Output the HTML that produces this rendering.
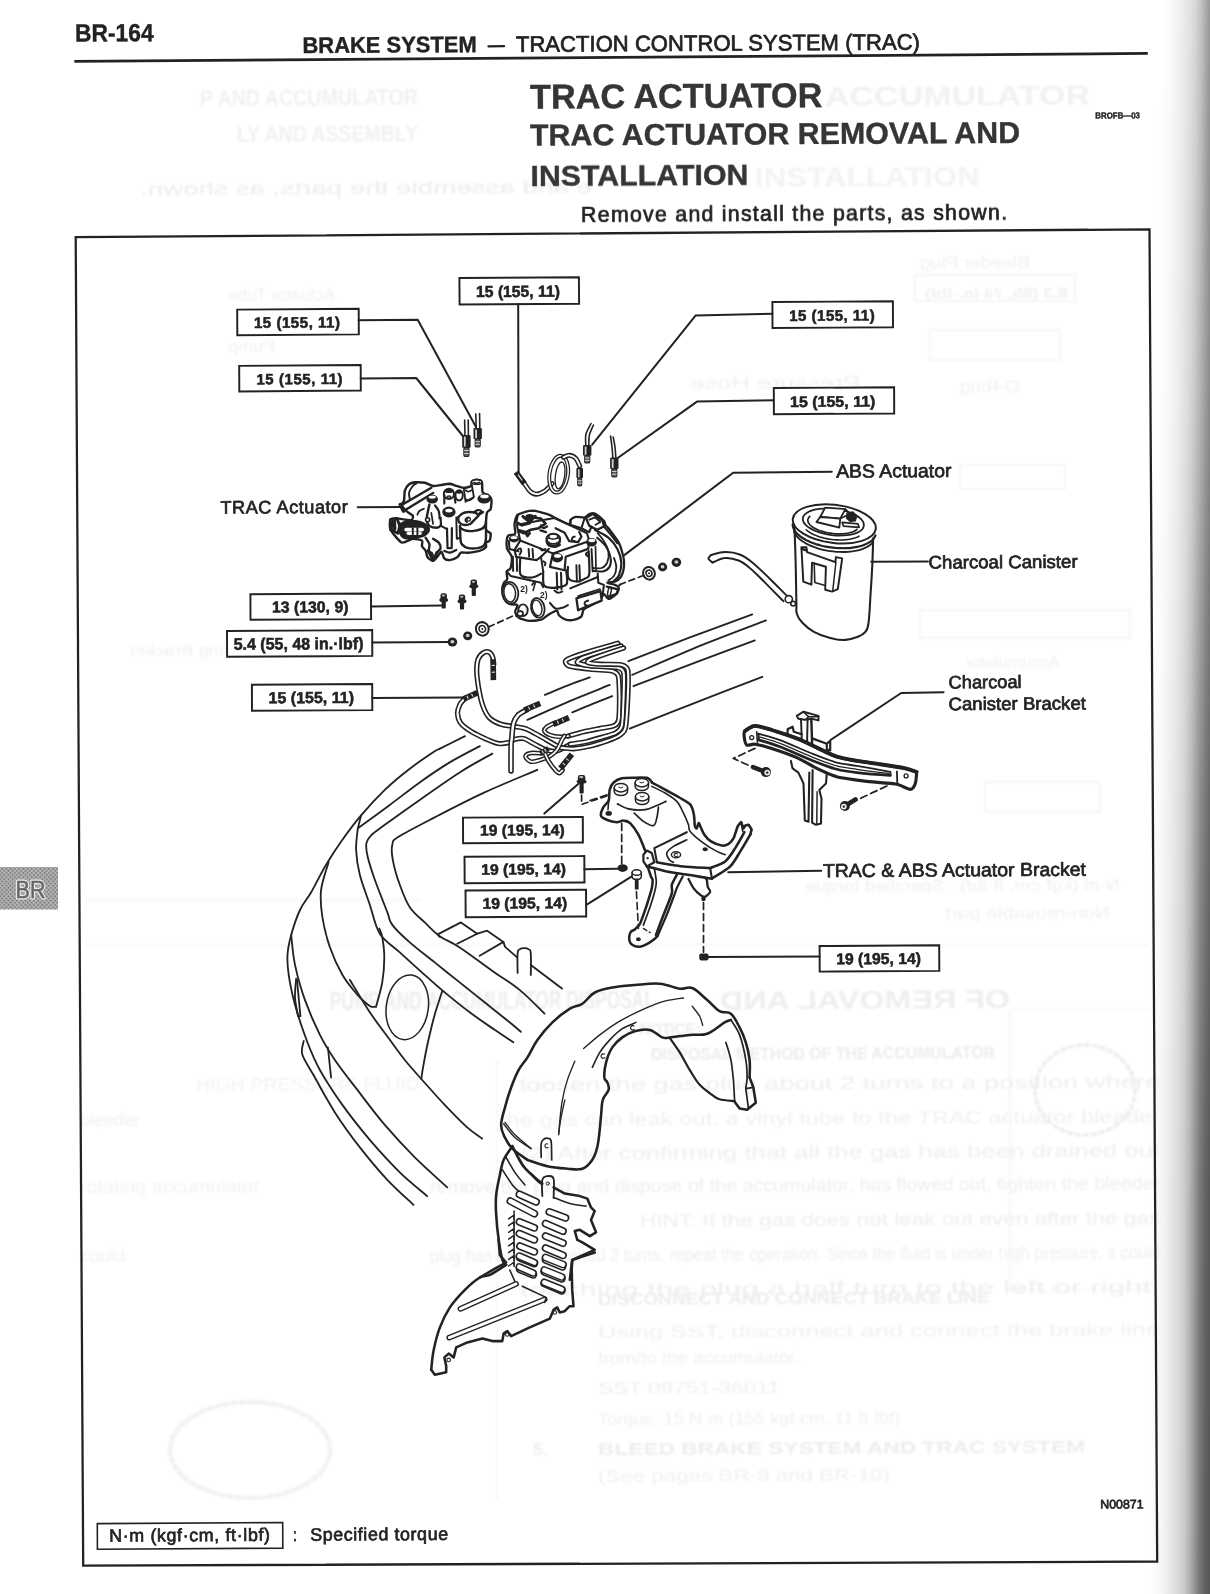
<!DOCTYPE html><html><head><meta charset="utf-8"><title>BR-164</title>
<style>html,body{margin:0;padding:0;background:#fff;}body{width:1210px;height:1594px;overflow:hidden;position:relative;font-family:"Liberation Sans",sans-serif;}svg{position:absolute;left:0;top:0;}text{font-family:"Liberation Sans",sans-serif;}</style></head><body>
<svg width="1210" height="1594" viewBox="0 0 1210 1594" stroke-linecap="round" stroke-linejoin="round">
<defs><filter id="soft" x="-5%" y="-5%" width="110%" height="110%"><feGaussianBlur stdDeviation="0.4"/></filter><filter id="ghost" x="-5%" y="-20%" width="110%" height="140%"><feGaussianBlur stdDeviation="0.9"/></filter>
<pattern id="ht" width="3" height="3" patternUnits="userSpaceOnUse" patternTransform="rotate(45)"><rect width="3" height="3" fill="#b4b4b4"/><rect width="1.6" height="1.6" fill="#6e6e6e"/></pattern>
<linearGradient id="shA" x1="0" x2="1" y1="0" y2="0"><stop offset="0.000" stop-color="rgb(255,255,255)"/><stop offset="0.077" stop-color="rgb(255,255,255)"/><stop offset="0.123" stop-color="rgb(255,255,255)"/><stop offset="0.169" stop-color="rgb(255,255,255)"/><stop offset="0.231" stop-color="rgb(255,255,255)"/><stop offset="0.292" stop-color="rgb(254,254,254)"/><stop offset="0.354" stop-color="rgb(252,252,252)"/><stop offset="0.415" stop-color="rgb(248,248,248)"/><stop offset="0.477" stop-color="rgb(244,244,244)"/><stop offset="0.538" stop-color="rgb(240,240,240)"/><stop offset="0.600" stop-color="rgb(234,234,234)"/><stop offset="0.646" stop-color="rgb(230,230,230)"/><stop offset="0.692" stop-color="rgb(226,226,226)"/><stop offset="0.738" stop-color="rgb(219,219,219)"/><stop offset="0.785" stop-color="rgb(212,212,212)"/><stop offset="0.815" stop-color="rgb(206,206,206)"/><stop offset="0.846" stop-color="rgb(198,198,198)"/><stop offset="0.877" stop-color="rgb(190,190,190)"/><stop offset="0.908" stop-color="rgb(181,181,181)"/><stop offset="0.938" stop-color="rgb(171,171,171)"/><stop offset="0.969" stop-color="rgb(161,161,161)"/><stop offset="1.000" stop-color="rgb(150,150,150)"/></linearGradient>
<linearGradient id="shB" x1="0" x2="1" y1="0" y2="0"><stop offset="0.000" stop-color="#000" stop-opacity="0.000"/><stop offset="0.077" stop-color="#000" stop-opacity="0.000"/><stop offset="0.123" stop-color="#000" stop-opacity="0.010"/><stop offset="0.169" stop-color="#000" stop-opacity="0.020"/><stop offset="0.231" stop-color="#000" stop-opacity="0.035"/><stop offset="0.292" stop-color="#000" stop-opacity="0.050"/><stop offset="0.354" stop-color="#000" stop-opacity="0.068"/><stop offset="0.415" stop-color="#000" stop-opacity="0.078"/><stop offset="0.477" stop-color="#000" stop-opacity="0.091"/><stop offset="0.538" stop-color="#000" stop-opacity="0.113"/><stop offset="0.600" stop-color="#000" stop-opacity="0.130"/><stop offset="0.646" stop-color="#000" stop-opacity="0.173"/><stop offset="0.692" stop-color="#000" stop-opacity="0.219"/><stop offset="0.738" stop-color="#000" stop-opacity="0.274"/><stop offset="0.785" stop-color="#000" stop-opacity="0.341"/><stop offset="0.815" stop-color="#000" stop-opacity="0.375"/><stop offset="0.846" stop-color="#000" stop-opacity="0.406"/><stop offset="0.877" stop-color="#000" stop-opacity="0.429"/><stop offset="0.908" stop-color="#000" stop-opacity="0.441"/><stop offset="0.938" stop-color="#000" stop-opacity="0.450"/><stop offset="0.969" stop-color="#000" stop-opacity="0.440"/><stop offset="1.000" stop-color="#000" stop-opacity="0.427"/></linearGradient>
<linearGradient id="shM" x1="0" x2="0" y1="0" y2="1"><stop offset="0" stop-color="#000"/><stop offset="0.25" stop-color="#383838"/><stop offset="0.5" stop-color="#adadad"/><stop offset="0.75" stop-color="#f2f2f2"/><stop offset="1" stop-color="#fff"/></linearGradient>
<mask id="shMask" maskUnits="userSpaceOnUse" x="1145" y="0" width="65" height="1594"><rect x="1145" y="0" width="65" height="1594" fill="url(#shM)"/></mask>
</defs>
<rect x="1145" y="0" width="65" height="1594" fill="url(#shA)"/>
<rect x="1145" y="0" width="65" height="1594" fill="url(#shB)" mask="url(#shMask)"/>
<g filter="url(#ghost)" opacity="1">
<text x="200" y="106" font-size="23" font-weight="bold" fill="#f1f1f1" textLength="218" lengthAdjust="spacingAndGlyphs" transform="rotate(-0.3 200 106)">P AND ACCUMULATOR</text>
<text x="237" y="142" font-size="23" font-weight="bold" fill="#f1f1f1" textLength="181" lengthAdjust="spacingAndGlyphs" transform="rotate(-0.3 237 142)">LY AND ASSEMBLY</text>
<text x="825" y="106" font-size="27" font-weight="bold" fill="#f1f1f1" textLength="265" lengthAdjust="spacingAndGlyphs" transform="rotate(-0.3 825 106)">ACCUMULATOR</text>
<text x="755" y="187" font-size="27" font-weight="bold" fill="#f3f3f3" textLength="225" lengthAdjust="spacingAndGlyphs" transform="rotate(-0.3 755 187)">INSTALLATION</text>
<text x="0" y="0" font-size="19" fill="#ececec" textLength="452" lengthAdjust="spacingAndGlyphs" transform="translate(592 193) scale(-1 1) rotate(0.3)">e and assemble the parts, as shown.</text>
<text x="0" y="0" font-size="17" fill="#f0f0f0" textLength="110" lengthAdjust="spacingAndGlyphs" transform="translate(1030 268) scale(-1 1) rotate(0.3)">Bleeder Plug</text>
<text x="0" y="0" font-size="15" font-weight="bold" fill="#f0f0f0" textLength="143" lengthAdjust="spacingAndGlyphs" transform="translate(1068 298) scale(-1 1) rotate(0.3)">8.3 (85, 74 in.·lbf)</text>
<text x="0" y="0" font-size="17" fill="#f0f0f0" textLength="107" lengthAdjust="spacingAndGlyphs" transform="translate(335 300) scale(-1 1) rotate(0.3)">Actuator Tube</text>
<text x="0" y="0" font-size="17" fill="#f0f0f0" textLength="47" lengthAdjust="spacingAndGlyphs" transform="translate(275 352) scale(-1 1) rotate(0.3)">Pump</text>
<text x="0" y="0" font-size="17" fill="#f0f0f0" textLength="170" lengthAdjust="spacingAndGlyphs" transform="translate(860 388) scale(-1 1) rotate(0.3)">Pressure Hose</text>
<text x="0" y="0" font-size="17" fill="#f0f0f0" textLength="60" lengthAdjust="spacingAndGlyphs" transform="translate(1020 392) scale(-1 1) rotate(0.3)">O-Ring</text>
<text x="0" y="0" font-size="17" fill="#f0f0f0" textLength="95" lengthAdjust="spacingAndGlyphs" transform="translate(1060 668) scale(-1 1) rotate(0.3)">Accumulator</text>
<text x="0" y="0" font-size="15" fill="#f0f0f0" textLength="145" lengthAdjust="spacingAndGlyphs" transform="translate(275 655) scale(-1 1) rotate(0.3)">Mounting Bracket</text>
<text x="0" y="0" font-size="16" fill="#f0f0f0" textLength="315" lengthAdjust="spacingAndGlyphs" transform="translate(1120 890) scale(-1 1) rotate(0.3)">N·m (kgf·cm, ft·lbf)   : Specified torque</text>
<text x="0" y="0" font-size="16" fill="#f0f0f0" textLength="165" lengthAdjust="spacingAndGlyphs" transform="translate(1110 918) scale(-1 1) rotate(0.3)">Non-reusable part</text>
<rect x="915" y="275" width="160" height="26" fill="none" stroke="#eeeeee" stroke-width="1.2"/>
<rect x="930" y="330" width="130" height="30" fill="none" stroke="#eeeeee" stroke-width="1.2"/>
<rect x="960" y="465" width="105" height="24" fill="none" stroke="#eeeeee" stroke-width="1.2"/>
<rect x="985" y="782" width="115" height="30" fill="none" stroke="#eeeeee" stroke-width="1.2"/>
<rect x="920" y="610" width="210" height="28" fill="none" stroke="#eeeeee" stroke-width="1.2"/>
<path d="M85,945 H1148 M85,900 H420" stroke="#f0f0f0" stroke-width="1.2" fill="none"/>
<text x="330" y="1010" font-size="26" font-weight="bold" fill="#ededed" textLength="325" lengthAdjust="spacingAndGlyphs" transform="rotate(-0.3 330 1010)">PUMP AND ACCUMULATOR DISPOSAL</text>
<text x="0" y="0" font-size="26" font-weight="bold" fill="#eeeeee" textLength="290" lengthAdjust="spacingAndGlyphs" transform="translate(1010 1008) scale(-1 1) rotate(0.3)">OF REMOVAL AND</text>
<text x="651" y="1060" font-size="17" font-weight="bold" fill="#ececec" textLength="344" lengthAdjust="spacingAndGlyphs" transform="rotate(-0.3 651 1060)">DISPOSAL METHOD OF THE ACCUMULATOR</text>
<text x="640" y="1035" font-size="17" font-weight="bold" fill="#ececec" textLength="60" lengthAdjust="spacingAndGlyphs" transform="rotate(-0.3 640 1035)">NOTICE:</text>
<text x="520" y="1091" font-size="18" fill="#eeeeee" textLength="640" lengthAdjust="spacingAndGlyphs" transform="rotate(-0.3 520 1091)">loosen the gas plug about 2 turns to a position where</text>
<text x="196" y="1091" font-size="18" fill="#f2f2f2" textLength="224" lengthAdjust="spacingAndGlyphs" transform="rotate(-0.3 196 1091)">HIGH PRESSURE FLUID</text>
<text x="80" y="1126" font-size="18" fill="#f0f0f0" textLength="60" lengthAdjust="spacingAndGlyphs" transform="rotate(-0.3 80 1126)">bleeder</text>
<text x="500" y="1126" font-size="18" fill="#f0f0f0" textLength="660" lengthAdjust="spacingAndGlyphs" transform="rotate(-0.3 500 1126)">the gas can leak out.  a vinyl tube to the TRAC actuator bleeder</text>
<text x="520" y="1160" font-size="18" fill="#eeeeee" textLength="640" lengthAdjust="spacingAndGlyphs" transform="rotate(-0.3 520 1160)">(2)  After confirming that all the gas has been drained out</text>
<text x="80" y="1193" font-size="18" fill="#f2f2f2" textLength="180" lengthAdjust="spacingAndGlyphs" transform="rotate(-0.3 80 1193)">rotating accumulator</text>
<text x="430" y="1193" font-size="18" fill="#eeeeee" textLength="730" lengthAdjust="spacingAndGlyphs" transform="rotate(-0.3 430 1193)">remove the plug and dispose of the accumulator. has flowed out, tighten the bleeder</text>
<text x="640" y="1227" font-size="18" fill="#eeeeee" textLength="520" lengthAdjust="spacingAndGlyphs" transform="rotate(-0.3 640 1227)">HINT: If the gas does not leak out even after the gas</text>
<text x="430" y="1262" font-size="18" fill="#efefef" textLength="730" lengthAdjust="spacingAndGlyphs" transform="rotate(-0.3 430 1262)">plug has been loosened 2 turns, repeat the operation. Since the fluid is under high pressure, it could</text>
<text x="80" y="1262" font-size="18" fill="#f2f2f2" textLength="45" lengthAdjust="spacingAndGlyphs" transform="rotate(-0.3 80 1262)">could</text>
<text x="520" y="1296" font-size="18" fill="#eeeeee" textLength="640" lengthAdjust="spacingAndGlyphs" transform="rotate(-0.3 520 1296)">touching the plug a half turn to the left or right.</text>
<text x="598" y="1305" font-size="17" font-weight="bold" fill="#ededed" textLength="392" lengthAdjust="spacingAndGlyphs" transform="rotate(-0.3 598 1305)">DISCONNECT AND CONNECT BRAKE LINE</text>
<text x="598" y="1338" font-size="17" fill="#f0f0f0" textLength="562" lengthAdjust="spacingAndGlyphs" transform="rotate(-0.3 598 1338)">Using SST, disconnect and connect the brake line</text>
<text x="598" y="1364" font-size="17" fill="#f0f0f0" textLength="202" lengthAdjust="spacingAndGlyphs" transform="rotate(-0.3 598 1364)">from/to the accumulator.</text>
<text x="598" y="1394" font-size="17" fill="#f0f0f0" textLength="182" lengthAdjust="spacingAndGlyphs" transform="rotate(-0.3 598 1394)">SST 09751-36011</text>
<text x="598" y="1425" font-size="17" fill="#f0f0f0" textLength="302" lengthAdjust="spacingAndGlyphs" transform="rotate(-0.3 598 1425)">Torque: 15 N·m (155 kgf·cm, 11 ft·lbf)</text>
<text x="598" y="1455" font-size="17" font-weight="bold" fill="#ededed" textLength="487" lengthAdjust="spacingAndGlyphs" transform="rotate(-0.3 598 1455)">BLEED BRAKE SYSTEM AND TRAC SYSTEM</text>
<text x="533" y="1455" font-size="17" font-weight="bold" fill="#ededed" textLength="15" lengthAdjust="spacingAndGlyphs" transform="rotate(-0.3 533 1455)">5.</text>
<text x="598" y="1482" font-size="17" fill="#f0f0f0" textLength="292" lengthAdjust="spacingAndGlyphs" transform="rotate(-0.3 598 1482)">(See pages BR-8 and BR-10)</text>
<path d="M497,1060 V1500 M1010,1010 H1150 M1010,1010 V1290 H1150" stroke="#f1f1f1" stroke-width="1.2" fill="none"/>
<ellipse cx="250" cy="1450" rx="80" ry="48" fill="none" stroke="#f2f2f2" stroke-width="5" stroke-dasharray="3 5"/>
<ellipse cx="1085" cy="1090" rx="50" ry="45" fill="none" stroke="#eeeeee" stroke-width="4" stroke-dasharray="3 5"/>
</g>
<g filter="url(#soft)">
<rect x="0" y="867" width="58" height="42.5" fill="url(#ht)"/>
<text x="15.5" y="897.5" font-size="24" fill="#fff" stroke="#f2f2f2" stroke-width="3" textLength="30" lengthAdjust="spacingAndGlyphs" opacity="0.9">BR</text>
<text x="15.5" y="897.5" font-size="24" fill="#666" stroke="#666" stroke-width="0.5" textLength="30" lengthAdjust="spacingAndGlyphs">BR</text>
<text x="74.9" y="41.6" font-size="24.71" font-weight="bold" textLength="78.8" lengthAdjust="spacingAndGlyphs" fill="#222" stroke="#222" stroke-width="0.4" transform="rotate(-0.32 74.9 41.6)">BR-164</text>
<text x="302.5" y="53.0" font-size="22.67" font-weight="bold" textLength="174.2" lengthAdjust="spacingAndGlyphs" fill="#222" stroke="#222" stroke-width="0.4" transform="rotate(-0.32 302.5 53.0)">BRAKE SYSTEM</text>
<text x="515.9" y="51.9" font-size="22.38" textLength="404.1" lengthAdjust="spacingAndGlyphs" fill="#222" stroke="#222" stroke-width="0.7" transform="rotate(-0.32 515.9 51.9)">TRACTION CONTROL SYSTEM (TRAC)</text>
<path d="M488.4,46.3 L504.1,46.2" fill="none" stroke="#222" stroke-width="2.20"/>
<path d="M74.4,61.4 L1147.8,53.4" fill="none" stroke="#222" stroke-width="2.75" stroke-linecap="butt"/>
<text x="530.0" y="108.7" font-size="34.45" font-weight="bold" textLength="292.4" lengthAdjust="spacingAndGlyphs" fill="#363636" stroke="#363636" stroke-width="0.4" transform="rotate(-0.32 530.0 108.7)">TRAC ACTUATOR</text>
<text x="530.0" y="145.6" font-size="30.09" font-weight="bold" textLength="490.1" lengthAdjust="spacingAndGlyphs" fill="#363636" stroke="#363636" stroke-width="0.4" transform="rotate(-0.32 530.0 145.6)">TRAC ACTUATOR REMOVAL AND</text>
<text x="530.5" y="186.1" font-size="29.80" font-weight="bold" textLength="217.9" lengthAdjust="spacingAndGlyphs" fill="#363636" stroke="#363636" stroke-width="0.4" transform="rotate(-0.32 530.5 186.1)">INSTALLATION</text>
<text x="581.1" y="221.5" font-size="21.37" textLength="426.0" lengthAdjust="spacing" fill="#222" stroke="#222" stroke-width="0.7" transform="rotate(-0.32 581.1 221.5)">Remove and install the parts, as shown.</text>
<text x="1095.3" y="118.6" font-size="8.72" font-weight="bold" textLength="44.7" lengthAdjust="spacingAndGlyphs" fill="#222" stroke="#222" stroke-width="0.4" transform="rotate(-0.32 1095.3 118.6)">BROFB—03</text>
<path d="M75.7,237.2 L1149.5,229.3 L1157.2,1561.5 L83.2,1565.7 Z" fill="none" stroke="#222" stroke-width="2.26" stroke-linejoin="miter"/>
<path d="M237.2,309.6 L358.7,308.8 L358.8,334.4 L237.3,335.2 Z" fill="#fff" stroke="#222" stroke-width="1.95" stroke-linejoin="miter"/>
<text x="254.0" y="327.9" font-size="15.12" font-weight="bold" textLength="86.0" lengthAdjust="spacing" fill="#222" stroke="#222" stroke-width="0.55" transform="rotate(-0.32 254.0 327.9)">15 (155, 11)</text>
<path d="M239.2,365.9 L360.7,365.1 L360.8,390.6 L239.3,391.4 Z" fill="#fff" stroke="#222" stroke-width="1.95" stroke-linejoin="miter"/>
<text x="256.5" y="384.4" font-size="14.97" font-weight="bold" textLength="86.1" lengthAdjust="spacing" fill="#222" stroke="#222" stroke-width="0.55" transform="rotate(-0.32 256.5 384.4)">15 (155, 11)</text>
<path d="M459.4,278.0 L578.9,277.3 L579.1,303.7 L459.6,304.4 Z" fill="#fff" stroke="#222" stroke-width="1.95" stroke-linejoin="miter"/>
<text x="476.0" y="297.1" font-size="15.84" font-weight="bold" textLength="84.0" lengthAdjust="spacingAndGlyphs" fill="#222" stroke="#222" stroke-width="0.55" transform="rotate(-0.32 476.0 297.1)">15 (155, 11)</text>
<path d="M772.4,302.0 L892.9,301.3 L893.0,327.3 L772.5,328.0 Z" fill="#fff" stroke="#222" stroke-width="1.95" stroke-linejoin="miter"/>
<text x="789.3" y="320.9" font-size="15.12" font-weight="bold" textLength="85.4" lengthAdjust="spacing" fill="#222" stroke="#222" stroke-width="0.55" transform="rotate(-0.32 789.3 320.9)">15 (155, 11)</text>
<path d="M773.8,388.0 L894.1,387.3 L894.2,413.5 L773.9,414.2 Z" fill="#fff" stroke="#222" stroke-width="1.95" stroke-linejoin="miter"/>
<text x="790.0" y="407.0" font-size="15.26" font-weight="bold" textLength="85.4" lengthAdjust="spacingAndGlyphs" fill="#222" stroke="#222" stroke-width="0.55" transform="rotate(-0.32 790.0 407.0)">15 (155, 11)</text>
<path d="M250.4,594.2 L371.0,593.5 L371.1,619.1 L250.5,619.8 Z" fill="#fff" stroke="#222" stroke-width="1.95" stroke-linejoin="miter"/>
<text x="271.9" y="612.6" font-size="15.84" font-weight="bold" textLength="76.6" lengthAdjust="spacingAndGlyphs" fill="#222" stroke="#222" stroke-width="0.55" transform="rotate(-0.32 271.9 612.6)">13 (130, 9)</text>
<path d="M227.0,631.0 L372.2,630.1 L372.3,655.9 L227.1,656.8 Z" fill="#fff" stroke="#222" stroke-width="1.95" stroke-linejoin="miter"/>
<text x="233.7" y="649.8" font-size="16.57" font-weight="bold" textLength="129.8" lengthAdjust="spacingAndGlyphs" fill="#222" stroke="#222" stroke-width="0.55" transform="rotate(-0.32 233.7 649.8)">5.4 (55, 48 in.·lbf)</text>
<path d="M251.9,684.7 L372.2,684.0 L372.3,710.1 L252.0,710.8 Z" fill="#fff" stroke="#222" stroke-width="1.95" stroke-linejoin="miter"/>
<text x="268.6" y="703.3" font-size="15.99" font-weight="bold" textLength="85.4" lengthAdjust="spacingAndGlyphs" fill="#222" stroke="#222" stroke-width="0.55" transform="rotate(-0.32 268.6 703.3)">15 (155, 11)</text>
<path d="M463.0,817.6 L582.8,816.9 L582.9,842.5 L463.1,843.2 Z" fill="#fff" stroke="#222" stroke-width="1.95" stroke-linejoin="miter"/>
<text x="480.0" y="835.6" font-size="15.26" font-weight="bold" textLength="84.8" lengthAdjust="spacingAndGlyphs" fill="#222" stroke="#222" stroke-width="0.55" transform="rotate(-0.32 480.0 835.6)">19 (195, 14)</text>
<path d="M464.5,856.8 L584.3,856.1 L584.5,882.5 L464.7,883.2 Z" fill="#fff" stroke="#222" stroke-width="1.95" stroke-linejoin="miter"/>
<text x="481.2" y="874.7" font-size="15.12" font-weight="bold" textLength="84.8" lengthAdjust="spacingAndGlyphs" fill="#222" stroke="#222" stroke-width="0.55" transform="rotate(-0.32 481.2 874.7)">19 (195, 14)</text>
<path d="M465.5,890.4 L586.0,889.7 L586.2,916.5 L465.7,917.2 Z" fill="#fff" stroke="#222" stroke-width="1.95" stroke-linejoin="miter"/>
<text x="482.4" y="908.7" font-size="15.41" font-weight="bold" textLength="84.9" lengthAdjust="spacingAndGlyphs" fill="#222" stroke="#222" stroke-width="0.55" transform="rotate(-0.32 482.4 908.7)">19 (195, 14)</text>
<path d="M819.6,946.0 L939.2,945.3 L939.3,970.9 L819.7,971.6 Z" fill="#fff" stroke="#222" stroke-width="1.95" stroke-linejoin="miter"/>
<text x="836.2" y="964.3" font-size="15.70" font-weight="bold" textLength="84.7" lengthAdjust="spacingAndGlyphs" fill="#222" stroke="#222" stroke-width="0.55" transform="rotate(-0.32 836.2 964.3)">19 (195, 14)</text>
<path d="M97.3,1523.6 L282.7,1522.5 L282.8,1548.1 L97.4,1549.2 Z" fill="#fff" stroke="#222" stroke-width="1.59" stroke-linejoin="miter"/>
<text x="0.0" y="-0.5" font-size="-1.45" font-weight="bold" textLength="0.0" lengthAdjust="spacingAndGlyphs" fill="#222" stroke="#222" stroke-width="0.55" transform="rotate(-0.32 0.0 -0.5)"></text>
<text x="109.2" y="1541.7" font-size="17.88" textLength="160.8" lengthAdjust="spacing" fill="#222" stroke="#222" stroke-width="0.7" transform="rotate(-0.32 109.2 1541.7)">N·m (kgf·cm, ft·lbf)</text>
<text x="293.3" y="1540.9" font-size="17.88" textLength="3.4" lengthAdjust="spacingAndGlyphs" fill="#222" stroke="#222" stroke-width="0.9" transform="rotate(-0.32 293.3 1540.9)">:</text>
<text x="310.2" y="1540.7" font-size="17.88" textLength="137.9" lengthAdjust="spacing" fill="#222" stroke="#222" stroke-width="0.7" transform="rotate(-0.32 310.2 1540.7)">Specified torque</text>
<text x="1100.2" y="1508.6" font-size="12.50" textLength="43.4" lengthAdjust="spacingAndGlyphs" fill="#222" stroke="#222" stroke-width="0.7" transform="rotate(-0.32 1100.2 1508.6)">N00871</text>
<text x="220.5" y="513.7" font-size="18.17" textLength="127.3" lengthAdjust="spacing" fill="#222" stroke="#222" stroke-width="0.7" transform="rotate(-0.32 220.5 513.7)">TRAC Actuator</text>
<text x="836.2" y="477.7" font-size="18.90" textLength="115.3" lengthAdjust="spacingAndGlyphs" fill="#222" stroke="#222" stroke-width="0.7" transform="rotate(-0.32 836.2 477.7)">ABS Actuator</text>
<text x="928.6" y="568.6" font-size="18.17" textLength="149.0" lengthAdjust="spacingAndGlyphs" fill="#222" stroke="#222" stroke-width="0.7" transform="rotate(-0.32 928.6 568.6)">Charcoal Canister</text>
<text x="948.6" y="688.4" font-size="18.02" textLength="73.1" lengthAdjust="spacingAndGlyphs" fill="#222" stroke="#222" stroke-width="0.7" transform="rotate(-0.32 948.6 688.4)">Charcoal</text>
<text x="948.6" y="710.2" font-size="18.17" textLength="137.3" lengthAdjust="spacingAndGlyphs" fill="#222" stroke="#222" stroke-width="0.7" transform="rotate(-0.32 948.6 710.2)">Canister Bracket</text>
<text x="822.9" y="877.2" font-size="18.90" textLength="263.1" lengthAdjust="spacingAndGlyphs" fill="#222" stroke="#222" stroke-width="0.7" transform="rotate(-0.32 822.9 877.2)">TRAC &amp; ABS Actuator Bracket</text>
<path d="M358.7,320.3 L417.7,319.8 L476.0,427.0" fill="none" stroke="#222" stroke-width="2.01"/>
<path d="M360.7,378.5 L416.2,378.0 L463.3,436.5" fill="none" stroke="#222" stroke-width="2.01"/>
<path d="M518.2,304.2 L518.6,472.0" fill="none" stroke="#222" stroke-width="2.01"/>
<path d="M772.4,313.8 L695.7,315.4 L592.0,444.8" fill="none" stroke="#222" stroke-width="2.01"/>
<path d="M773.8,400.3 L697.0,401.6 L617.0,458.5" fill="none" stroke="#222" stroke-width="2.01"/>
<path d="M831.8,471.7 L733.2,472.7 L623.3,555.9" fill="none" stroke="#222" stroke-width="2.01"/>
<path d="M357.7,507.2 L400.9,506.9" fill="none" stroke="#222" stroke-width="2.01"/>
<path d="M871.2,561.8 L927.9,561.4" fill="none" stroke="#222" stroke-width="2.01"/>
<path d="M943.6,692.2 L901.2,693.0 L830.5,740.0" fill="none" stroke="#222" stroke-width="2.01"/>
<path d="M371.0,606.4 L441.6,605.6" fill="none" stroke="#222" stroke-width="2.01"/>
<path d="M372.2,642.6 L449.6,642.0" fill="none" stroke="#222" stroke-width="2.01"/>
<path d="M372.2,697.9 L462.0,697.6" fill="none" stroke="#222" stroke-width="2.01"/>
<path d="M544.3,813.6 L578.5,783.7" fill="none" stroke="#222" stroke-width="2.01"/>
<path d="M584.3,869.2 L617.2,868.7" fill="none" stroke="#222" stroke-width="2.01"/>
<path d="M586.0,905.2 L633.4,875.3" fill="none" stroke="#222" stroke-width="2.01"/>
<path d="M708.3,957.1 L819.6,956.6" fill="none" stroke="#222" stroke-width="2.01"/>
<path d="M728.2,872.2 L821.2,870.8" fill="none" stroke="#222" stroke-width="2.01"/>
<path d="M465.0,736.1 C460.8,738.2 445.0,746.1 440.0,748.6 C435.0,751.1 439.8,747.8 434.7,751.2 C429.7,754.5 418.1,762.2 409.8,768.7 C401.4,775.1 392.9,782.1 384.8,789.9 C376.7,797.7 368.2,807.0 361.1,815.4 C354.0,823.7 348.2,831.6 342.4,839.8 C336.5,848.1 331.3,856.1 326.1,864.8 C320.9,873.5 315.5,884.7 311.2,892.3 C306.8,899.8 303.3,902.9 300.0,910.0 C296.6,917.1 293.3,927.4 291.2,934.9 C289.1,942.4 287.9,948.2 287.5,954.9 C287.1,961.6 287.5,966.6 288.7,974.9 C290.0,983.2 291.8,993.6 295.0,1004.8 C298.1,1016.1 303.3,1031.4 307.4,1042.3 C311.6,1053.2 314.1,1059.5 319.9,1070.0 C325.7,1080.4 334.1,1093.3 342.4,1104.9 C350.7,1116.6 360.3,1128.6 369.8,1139.9 C379.4,1151.1 390.2,1163.0 399.8,1172.3 C409.4,1181.7 422.7,1192.1 427.2,1196.1" fill="none" stroke="#222" stroke-width="1.83"/>
<path d="M544.8,694.9 C548.6,693.4 559.8,688.6 567.3,685.7 C574.8,682.7 586.0,678.8 589.8,677.4" fill="none" stroke="#222" stroke-width="1.83"/>
<path d="M628.4,661.2 C638.7,657.2 669.3,645.2 689.9,637.4 C710.6,629.6 741.9,618.2 752.3,614.4" fill="none" stroke="#222" stroke-width="1.83"/>
<path d="M479.9,746.1 C474.9,748.8 459.7,756.4 449.7,762.4 C439.7,768.5 429.7,775.3 419.7,782.4 C409.8,789.5 400.0,797.3 389.8,804.9 C379.6,812.4 363.8,824.0 358.6,827.8" fill="none" stroke="#222" stroke-width="1.83"/>
<path d="M361.1,815.4 L357.8,828.6" fill="none" stroke="#222" stroke-width="1.83"/>
<path d="M527.4,719.9 C534.4,716.7 556.1,707.0 569.8,701.1 C583.5,695.3 603.1,687.6 609.7,684.9" fill="none" stroke="#222" stroke-width="1.83"/>
<path d="M632.2,674.9 C643.9,669.9 680.1,654.0 702.4,644.9 C724.7,635.8 755.4,624.5 766.0,620.4" fill="none" stroke="#222" stroke-width="1.83"/>
<path d="M357.8,828.6 C357.5,832.1 355.8,842.1 356.1,849.8 C356.4,857.5 357.5,865.6 359.8,874.8 C362.1,883.9 366.5,894.9 369.8,904.7 C373.1,914.6 374.8,925.7 379.8,933.7 C384.8,941.6 392.3,945.5 399.8,952.4 C407.3,959.3 417.3,968.2 424.7,974.9 C432.2,981.5 437.2,986.1 444.7,992.4 C452.2,998.6 461.4,1006.1 469.7,1012.3 C478.0,1018.6 487.3,1024.8 494.6,1029.8 C501.9,1034.8 510.2,1040.2 513.3,1042.3" fill="none" stroke="#222" stroke-width="1.83"/>
<path d="M492.4,753.6 C487.0,756.7 471.8,764.7 459.7,772.4 C447.6,780.1 432.2,791.1 419.7,799.9 C407.3,808.6 392.9,818.9 384.8,824.8 C376.7,830.8 374.1,832.2 371.1,835.3 C368.0,838.5 366.9,839.9 366.3,843.6 C365.8,847.2 366.4,851.3 367.8,857.3 C369.2,863.3 371.6,870.6 374.8,879.8 C378.1,888.9 384.4,904.7 387.3,912.2 C390.2,919.8 388.6,919.9 392.3,924.9 C396.0,930.0 402.7,936.2 409.8,942.4 C416.8,948.7 426.4,955.7 434.7,962.4 C443.0,969.1 451.4,975.7 459.7,982.4 C468.0,989.0 476.3,995.7 484.6,1002.3 C493.0,1009.0 503.6,1017.4 509.6,1022.3 C515.6,1027.2 519.0,1030.2 520.8,1031.8" fill="none" stroke="#222" stroke-width="1.83"/>
<path d="M572.3,712.4 C575.6,711.0 585.6,706.8 592.2,704.1 C598.9,701.4 608.9,697.5 612.2,696.1" fill="none" stroke="#222" stroke-width="1.83"/>
<path d="M633.4,686.2 C644.9,681.8 682.2,667.5 702.4,659.9 C722.6,652.2 746.1,643.6 754.8,640.4" fill="none" stroke="#222" stroke-width="1.83"/>
<path d="M537.3,769.8 C528.6,773.6 501.7,784.5 484.6,792.4 C467.5,800.3 449.1,809.9 434.7,817.4 C420.4,824.8 405.6,832.3 398.5,836.8 C391.4,841.4 393.2,841.0 392.3,844.8 C391.3,848.6 391.5,853.1 392.8,859.8 C394.0,866.5 396.9,876.9 399.8,884.8 C402.6,892.7 405.6,901.0 409.8,907.2 C413.9,913.5 419.8,917.6 424.7,922.4 C429.7,927.3 433.9,932.0 439.7,936.2 C445.5,940.3 450.5,941.4 459.7,947.4 C468.8,953.4 484.6,965.3 494.6,972.4 C504.6,979.5 511.3,983.0 519.6,989.9 C527.9,996.7 540.4,1009.6 544.5,1013.6" fill="none" stroke="#222" stroke-width="1.83"/>
<path d="M629.7,728.6 C639.7,724.6 667.8,713.4 689.9,704.8 C712.0,696.2 750.2,681.5 762.3,676.8" fill="none" stroke="#222" stroke-width="1.83"/>
<path d="M328.6,862.3 C327.4,866.9 322.2,880.6 321.1,889.8 C320.1,898.9 320.9,907.7 322.4,917.2 C323.9,926.8 326.6,937.6 329.9,947.2 C333.2,956.8 337.8,966.7 342.4,974.7 C346.9,982.6 352.8,989.4 357.3,994.6 C361.9,999.8 366.7,1003.9 369.8,1005.9 C372.9,1007.9 375.0,1006.5 376.1,1006.6" fill="none" stroke="#222" stroke-width="1.83"/>
<path d="M376.1,1006.6 C377.1,1002.5 380.9,990.4 382.3,982.1 C383.7,973.9 384.3,964.7 384.3,957.2 C384.3,949.7 383.1,942.0 382.3,937.2 C381.5,932.4 379.8,929.9 379.3,928.5" fill="none" stroke="#222" stroke-width="1.83"/>
<path d="M291.2,934.9 C291.8,939.9 292.7,954.1 295.0,964.9 C297.2,975.7 300.8,988.2 304.9,999.9 C309.1,1011.5 314.9,1024.8 319.9,1034.8 C324.9,1044.8 328.7,1050.8 334.9,1060.0 C341.1,1069.2 349.0,1079.1 357.4,1089.9 C365.7,1100.8 375.2,1113.7 384.8,1124.9 C394.4,1136.1 404.4,1146.9 414.8,1157.4 C425.2,1167.8 441.8,1182.3 447.2,1187.3" fill="none" stroke="#222" stroke-width="1.83"/>
<path d="M296.2,978.6 C296.0,981.7 294.7,991.1 295.0,997.4 C295.3,1003.6 297.5,1013.0 298.0,1016.1" fill="none" stroke="#222" stroke-width="1.83"/>
<path d="M297.0,979.9 L300.4,1016.1 L298.0,1016.1" fill="none" stroke="#222" stroke-width="1.83"/>
<path d="M303.7,1041.0 C303.5,1043.3 300.6,1048.7 302.4,1054.8 C304.3,1060.8 309.5,1067.8 314.9,1077.5 C320.3,1087.1 327.4,1100.8 334.9,1112.4 C342.4,1124.1 351.1,1136.1 359.9,1147.4 C368.6,1158.6 378.4,1170.3 387.3,1179.8 C396.3,1189.4 409.1,1200.6 413.5,1204.8" fill="none" stroke="#222" stroke-width="1.83"/>
<path d="M327.9,1047.5 L331.1,1077.5" fill="none" stroke="#222" stroke-width="1.83"/>
<ellipse cx="407.3" cy="1007.3" rx="21.0" ry="32.5" fill="none" stroke="#222" stroke-width="1.5" transform="rotate(8 407.3 1007.3)"/>
<path d="M442.2,991.1 C441.0,995.1 437.0,1006.7 434.7,1014.8 C432.4,1022.9 430.4,1031.5 428.5,1039.8 C426.6,1048.1 424.7,1058.2 423.5,1064.8 C422.3,1071.3 421.6,1076.6 421.3,1079.0" fill="none" stroke="#222" stroke-width="1.83"/>
<path d="M349.9,979.9 C353.2,985.3 363.2,1002.3 369.8,1012.3 C376.5,1022.3 384.0,1031.9 389.8,1039.8 C395.6,1047.7 399.4,1053.3 404.8,1060.0 C410.2,1066.7 415.6,1072.5 422.2,1080.0 C428.9,1087.4 437.2,1097.0 444.7,1104.9 C452.2,1112.8 460.9,1121.8 467.2,1127.4 C473.4,1133.0 479.7,1136.8 482.1,1138.6" fill="none" stroke="#222" stroke-width="1.83"/>
<path d="M439.7,936.9 L437.7,934.4 L460.9,922.4 L477.2,933.7 L457.2,943.7" fill="none" stroke="#222" stroke-width="1.83"/>
<path d="M477.2,933.7 L487.1,930.7 L503.4,941.9 L479.7,955.7" fill="none" stroke="#222" stroke-width="1.83"/>
<path d="M503.4,941.9 L505.1,946.9 L517.1,957.4" fill="none" stroke="#222" stroke-width="1.83"/>
<path d="M517.6,972.9 C517.6,969.0 517.2,958.4 517.6,953.7 C518.0,949.0 518.3,950.5 519.6,949.4 C520.9,948.3 522.2,948.2 524.1,948.2 C525.9,948.2 527.5,948.3 528.8,949.4 C530.2,950.5 530.4,948.6 530.8,953.7 C531.2,958.8 530.8,970.6 530.8,974.9" fill="none" stroke="#222" stroke-width="1.83"/>
<path d="M530.8,964.9 L562.0,988.6" fill="none" stroke="#222" stroke-width="1.83"/>
<path d="M465.0,698.4 C464.2,699.4 461.3,701.8 460.0,704.3 C458.8,706.8 457.4,710.2 457.5,713.4 C457.7,716.6 458.5,720.4 460.9,723.4 C463.2,726.5 467.4,729.1 471.7,731.8 C476.0,734.4 482.3,737.3 486.7,739.3 C491.2,741.2 494.8,742.9 498.4,743.5 C502.0,744.0 505.7,743.3 508.4,742.6 C511.2,741.9 512.6,740.0 515.1,739.3 C517.6,738.6 520.4,737.8 523.5,738.5 C526.5,739.2 529.6,741.5 533.5,743.5 C537.4,745.4 542.9,748.9 546.8,750.1 C550.7,751.4 553.0,751.9 556.9,751.0 C560.8,750.0 568.0,745.4 570.2,744.3" fill="none" stroke="#222" stroke-width="5.25"/>
<path d="M465.0,698.4 C464.2,699.4 461.3,701.8 460.0,704.3 C458.8,706.8 457.4,710.2 457.5,713.4 C457.7,716.6 458.5,720.4 460.9,723.4 C463.2,726.5 467.4,729.1 471.7,731.8 C476.0,734.4 482.3,737.3 486.7,739.3 C491.2,741.2 494.8,742.9 498.4,743.5 C502.0,744.0 505.7,743.3 508.4,742.6 C511.2,741.9 512.6,740.0 515.1,739.3 C517.6,738.6 520.4,737.8 523.5,738.5 C526.5,739.2 529.6,741.5 533.5,743.5 C537.4,745.4 542.9,748.9 546.8,750.1 C550.7,751.4 553.0,751.9 556.9,751.0 C560.8,750.0 568.0,745.4 570.2,744.3" fill="none" stroke="#fff" stroke-width="2.07"/>
<path d="M493.8,664.2 C493.6,663.0 493.4,658.7 492.6,656.7 C491.8,654.7 490.3,652.6 488.7,652.0 C487.2,651.4 484.9,651.8 483.1,653.0 C481.3,654.2 479.1,656.1 478.1,659.2 C477.0,662.3 476.6,666.8 476.7,671.7 C476.8,676.6 477.8,682.8 478.7,688.4 C479.7,694.0 480.8,700.2 482.6,705.1 C484.3,710.0 486.2,714.4 489.2,717.6 C492.3,720.8 496.9,722.8 500.9,724.3 C505.0,725.8 509.4,725.8 513.5,726.4 C517.5,727.1 521.5,727.3 525.1,728.4 C528.8,729.6 531.5,731.5 535.2,733.5 C538.8,735.4 542.7,737.8 546.8,740.1 C551.0,742.5 558.0,746.4 560.2,747.6" fill="none" stroke="#222" stroke-width="5.25"/>
<path d="M493.8,664.2 C493.6,663.0 493.4,658.7 492.6,656.7 C491.8,654.7 490.3,652.6 488.7,652.0 C487.2,651.4 484.9,651.8 483.1,653.0 C481.3,654.2 479.1,656.1 478.1,659.2 C477.0,662.3 476.6,666.8 476.7,671.7 C476.8,676.6 477.8,682.8 478.7,688.4 C479.7,694.0 480.8,700.2 482.6,705.1 C484.3,710.0 486.2,714.4 489.2,717.6 C492.3,720.8 496.9,722.8 500.9,724.3 C505.0,725.8 509.4,725.8 513.5,726.4 C517.5,727.1 521.5,727.3 525.1,728.4 C528.8,729.6 531.5,731.5 535.2,733.5 C538.8,735.4 542.7,737.8 546.8,740.1 C551.0,742.5 558.0,746.4 560.2,747.6" fill="none" stroke="#fff" stroke-width="2.07"/>
<path d="M617.8,643.3 C615.6,644.0 603.8,647.1 598.6,648.7 C593.4,650.2 577.4,655.3 573.6,656.7 C569.7,658.1 566.1,659.8 565.5,660.9 C565.0,661.9 566.0,664.9 568.9,665.9 C571.8,666.8 585.2,668.6 590.3,669.2 C595.3,669.8 608.7,670.1 612.0,670.9 C615.2,671.7 617.4,672.9 618.3,675.9 C619.2,678.9 619.4,691.6 619.5,696.7 C619.5,701.9 619.3,716.7 618.6,720.1 C617.9,723.5 615.8,725.0 613.6,725.9 C611.5,726.9 603.8,727.8 600.3,728.4 C596.8,729.1 587.3,730.9 583.6,731.8 C579.9,732.7 570.3,735.5 568.5,736.0" fill="none" stroke="#222" stroke-width="5.25"/>
<path d="M617.8,643.3 C615.6,644.0 603.8,647.1 598.6,648.7 C593.4,650.2 577.4,655.3 573.6,656.7 C569.7,658.1 566.1,659.8 565.5,660.9 C565.0,661.9 566.0,664.9 568.9,665.9 C571.8,666.8 585.2,668.6 590.3,669.2 C595.3,669.8 608.7,670.1 612.0,670.9 C615.2,671.7 617.4,672.9 618.3,675.9 C619.2,678.9 619.4,691.6 619.5,696.7 C619.5,701.9 619.3,716.7 618.6,720.1 C617.9,723.5 615.8,725.0 613.6,725.9 C611.5,726.9 603.8,727.8 600.3,728.4 C596.8,729.1 587.3,730.9 583.6,731.8 C579.9,732.7 570.3,735.5 568.5,736.0" fill="none" stroke="#fff" stroke-width="2.07"/>
<path d="M621.1,645.9 C619.1,646.4 608.0,649.5 603.6,650.9 C599.2,652.2 586.6,656.2 583.6,657.5 C580.5,658.9 576.4,661.6 577.2,662.5 C578.0,663.5 585.6,665.3 590.3,665.9 C594.9,666.5 613.1,666.8 617.0,667.5 C620.9,668.3 622.9,669.1 623.6,672.5 C624.4,676.0 623.8,690.6 623.6,696.7 C623.4,702.9 622.8,720.9 622.0,725.1 C621.1,729.3 618.3,731.3 616.1,732.6 C614.0,734.0 607.0,735.8 603.6,736.8 C600.2,737.8 590.8,740.6 586.9,741.5 C583.0,742.3 572.2,744.0 570.2,744.3" fill="none" stroke="#222" stroke-width="5.25"/>
<path d="M621.1,645.9 C619.1,646.4 608.0,649.5 603.6,650.9 C599.2,652.2 586.6,656.2 583.6,657.5 C580.5,658.9 576.4,661.6 577.2,662.5 C578.0,663.5 585.6,665.3 590.3,665.9 C594.9,666.5 613.1,666.8 617.0,667.5 C620.9,668.3 622.9,669.1 623.6,672.5 C624.4,676.0 623.8,690.6 623.6,696.7 C623.4,702.9 622.8,720.9 622.0,725.1 C621.1,729.3 618.3,731.3 616.1,732.6 C614.0,734.0 607.0,735.8 603.6,736.8 C600.2,737.8 590.8,740.6 586.9,741.5 C583.0,742.3 572.2,744.0 570.2,744.3" fill="none" stroke="#fff" stroke-width="2.07"/>
<path d="M623.6,648.0 C621.7,648.6 610.7,652.1 606.9,653.4 C603.1,654.7 593.3,658.1 591.1,659.2 C588.8,660.3 586.7,662.0 587.7,662.5 C588.8,663.1 596.4,664.0 600.3,664.2 C604.2,664.5 617.9,664.0 621.1,664.7 C624.3,665.4 627.0,666.3 627.8,670.0 C628.6,673.8 628.1,689.9 627.8,696.7 C627.5,703.6 626.4,723.9 625.3,728.4 C624.2,733.0 620.8,734.5 618.6,736.0 C616.5,737.4 610.3,739.8 606.9,741.0 C603.6,742.1 594.1,745.1 590.3,746.0 C586.4,746.9 577.1,748.6 573.6,748.8 C570.1,749.0 561.8,747.8 560.2,747.6" fill="none" stroke="#222" stroke-width="5.25"/>
<path d="M623.6,648.0 C621.7,648.6 610.7,652.1 606.9,653.4 C603.1,654.7 593.3,658.1 591.1,659.2 C588.8,660.3 586.7,662.0 587.7,662.5 C588.8,663.1 596.4,664.0 600.3,664.2 C604.2,664.5 617.9,664.0 621.1,664.7 C624.3,665.4 627.0,666.3 627.8,670.0 C628.6,673.8 628.1,689.9 627.8,696.7 C627.5,703.6 626.4,723.9 625.3,728.4 C624.2,733.0 620.8,734.5 618.6,736.0 C616.5,737.4 610.3,739.8 606.9,741.0 C603.6,742.1 594.1,745.1 590.3,746.0 C586.4,746.9 577.1,748.6 573.6,748.8 C570.1,749.0 561.8,747.8 560.2,747.6" fill="none" stroke="#fff" stroke-width="2.07"/>
<path d="M555.2,722.6 C553.8,723.3 548.7,725.4 546.8,726.8 C545.0,728.2 543.8,729.6 544.3,731.0 C544.9,732.3 547.5,734.1 550.2,735.1 C552.8,736.1 557.1,736.7 560.2,736.8 C563.3,736.9 567.2,736.1 568.5,736.0" fill="none" stroke="#222" stroke-width="4.64"/>
<path d="M555.2,722.6 C553.8,723.3 548.7,725.4 546.8,726.8 C545.0,728.2 543.8,729.6 544.3,731.0 C544.9,732.3 547.5,734.1 550.2,735.1 C552.8,736.1 557.1,736.7 560.2,736.8 C563.3,736.9 567.2,736.1 568.5,736.0" fill="none" stroke="#fff" stroke-width="1.71"/>
<path d="M564.4,735.9 C564.0,736.5 563.1,737.7 561.9,740.0 C560.6,742.4 558.8,747.4 556.9,750.0 C554.9,752.7 553.0,754.2 550.2,755.9 C547.4,757.5 543.4,759.1 540.2,760.0 C537.0,761.0 533.4,762.3 531.0,761.7 C528.5,761.1 525.5,757.8 525.5,756.4 C525.5,754.9 528.3,753.5 531.0,753.0 C533.7,752.5 540.0,753.3 541.8,753.4" fill="none" stroke="#222" stroke-width="4.64"/>
<path d="M564.4,735.9 C564.0,736.5 563.1,737.7 561.9,740.0 C560.6,742.4 558.8,747.4 556.9,750.0 C554.9,752.7 553.0,754.2 550.2,755.9 C547.4,757.5 543.4,759.1 540.2,760.0 C537.0,761.0 533.4,762.3 531.0,761.7 C528.5,761.1 525.5,757.8 525.5,756.4 C525.5,754.9 528.3,753.5 531.0,753.0 C533.7,752.5 540.0,753.3 541.8,753.4" fill="none" stroke="#fff" stroke-width="1.71"/>
<path d="M562.7,770.1 C562.1,770.6 560.5,772.9 559.4,773.1 C558.3,773.2 557.8,772.9 556.0,770.9 C554.2,768.9 550.5,764.1 548.5,760.9 C546.6,757.7 545.0,753.2 544.3,751.7" fill="none" stroke="#222" stroke-width="4.64"/>
<path d="M562.7,770.1 C562.1,770.6 560.5,772.9 559.4,773.1 C558.3,773.2 557.8,772.9 556.0,770.9 C554.2,768.9 550.5,764.1 548.5,760.9 C546.6,757.7 545.0,753.2 544.3,751.7" fill="none" stroke="#fff" stroke-width="1.71"/>
<path d="M526.8,709.8 C525.4,710.6 520.4,712.8 518.1,715.1 C515.9,717.4 514.5,719.5 513.5,723.4 C512.4,727.3 512.2,734.9 511.8,738.5 C511.4,742.1 511.3,739.6 511.1,745.0 C511.0,750.4 511.0,766.6 511.0,770.9" fill="none" stroke="#222" stroke-width="5.61"/>
<path d="M526.8,709.8 C525.4,710.6 520.4,712.8 518.1,715.1 C515.9,717.4 514.5,719.5 513.5,723.4 C512.4,727.3 512.2,734.9 511.8,738.5 C511.4,742.1 511.3,739.6 511.1,745.0 C511.0,750.4 511.0,766.6 511.0,770.9" fill="none" stroke="#fff" stroke-width="2.44"/>
<line x1="493.1" y1="659.2" x2="493.4" y2="680.1" stroke="#222" stroke-width="5.6" stroke-linecap="butt"/>
<line x1="491.6" y1="665.5" x2="494.8" y2="665.4" stroke="#ddd" stroke-width="1.1" stroke-linecap="butt"/>
<line x1="491.7" y1="672.2" x2="494.9" y2="672.1" stroke="#ddd" stroke-width="1.1" stroke-linecap="butt"/>
<line x1="463.4" y1="699.2" x2="477.6" y2="692.6" stroke="#222" stroke-width="5.8" stroke-linecap="butt"/>
<line x1="468.3" y1="698.7" x2="466.9" y2="695.8" stroke="#ddd" stroke-width="1.1" stroke-linecap="butt"/>
<line x1="472.9" y1="696.6" x2="471.5" y2="693.7" stroke="#ddd" stroke-width="1.1" stroke-linecap="butt"/>
<line x1="524.3" y1="710.1" x2="540.2" y2="703.4" stroke="#222" stroke-width="5.8" stroke-linecap="butt"/>
<line x1="529.7" y1="709.6" x2="528.4" y2="706.6" stroke="#ddd" stroke-width="1.1" stroke-linecap="butt"/>
<line x1="534.8" y1="707.4" x2="533.5" y2="704.5" stroke="#ddd" stroke-width="1.1" stroke-linecap="butt"/>
<line x1="553.2" y1="724.3" x2="568.9" y2="717.6" stroke="#222" stroke-width="5.8" stroke-linecap="butt"/>
<line x1="558.5" y1="723.7" x2="557.3" y2="720.8" stroke="#ddd" stroke-width="1.1" stroke-linecap="butt"/>
<line x1="563.5" y1="721.6" x2="562.3" y2="718.7" stroke="#ddd" stroke-width="1.1" stroke-linecap="butt"/>
<line x1="560.5" y1="768.4" x2="571.9" y2="754.2" stroke="#222" stroke-width="5.8" stroke-linecap="butt"/>
<line x1="565.2" y1="765.1" x2="562.7" y2="763.1" stroke="#ddd" stroke-width="1.1" stroke-linecap="butt"/>
<line x1="568.8" y1="760.6" x2="566.3" y2="758.6" stroke="#ddd" stroke-width="1.1" stroke-linecap="butt"/>
<line x1="540.2" y1="753.4" x2="548.5" y2="748.4" stroke="#222" stroke-width="5.0" stroke-linecap="butt"/>
<line x1="543.5" y1="753.2" x2="541.8" y2="750.5" stroke="#ddd" stroke-width="1.1" stroke-linecap="butt"/>
<line x1="546.2" y1="751.6" x2="544.5" y2="748.9" stroke="#ddd" stroke-width="1.1" stroke-linecap="butt"/>
<path d="M401.7,504.6 C401.4,503.4 403.6,502.5 404.0,500.9 C404.4,499.2 404.3,492.6 404.9,490.7 C405.5,488.7 407.8,485.2 409.1,484.2 C410.3,483.2 413.7,482.5 415.6,482.3 C417.4,482.2 422.8,482.4 424.8,482.8 C426.9,483.2 431.3,485.8 433.1,486.0 C435.0,486.3 438.6,485.4 440.6,485.1 C442.5,484.8 448.1,483.7 449.8,483.7 C451.5,483.8 453.8,485.1 455.4,485.6 C457.0,486.1 461.9,487.8 463.7,487.9 C465.5,487.9 470.2,486.7 471.1,486.0 C472.0,485.3 470.9,482.6 471.6,481.9 C472.2,481.1 475.5,479.7 476.7,479.7 C477.9,479.7 481.1,480.4 481.8,481.9 C482.5,483.4 481.9,491.0 482.7,492.5 C483.5,494.1 487.7,494.4 488.7,495.3 C489.7,496.2 491.3,498.3 491.5,499.9 C491.7,501.5 491.1,507.7 490.6,509.2 C490.0,510.7 487.4,510.5 486.9,512.9 C486.3,515.3 485.5,527.2 485.9,529.6 C486.4,531.9 490.1,532.0 490.6,533.3 C491.0,534.6 490.2,539.6 489.6,540.7 C489.1,541.7 486.4,541.8 485.9,542.5 C485.5,543.3 486.7,546.2 485.9,547.1 C485.2,548.1 481.5,550.2 479.4,550.9 C477.4,551.5 470.5,552.5 468.3,552.7 C466.2,552.9 462.2,552.2 460.9,552.7 C459.6,553.2 458.5,556.5 457.2,557.3 C455.9,558.2 451.3,560.0 449.8,560.1 C448.3,560.2 445.2,559.2 444.3,558.3 C443.3,557.3 442.3,551.9 441.5,551.8 C440.6,551.7 437.8,556.3 436.9,557.3 C435.9,558.4 434.2,561.0 433.1,561.0 C432.1,561.0 428.5,558.5 427.6,557.3 C426.7,556.1 426.4,552.1 425.7,550.9 C425.1,549.6 422.5,547.4 422.0,546.2 C421.6,545.0 423.1,541.5 422.0,540.7 C421.0,539.8 415.2,538.6 412.8,538.8 C410.4,539.0 404.3,543.6 401.7,542.5 C399.1,541.4 391.9,532.3 390.6,529.6 C389.3,526.9 389.8,520.7 390.6,519.4 C391.3,518.1 394.7,518.3 397.0,518.4 C399.4,518.6 409.1,520.6 410.9,520.3 C412.8,520.0 413.3,516.7 412.8,515.7 C412.2,514.6 407.6,512.3 406.3,511.0 C405.0,509.7 401.9,505.7 401.7,504.6 Z" fill="#fff" stroke="#222" stroke-width="2.44"/>
<path d="M401.7,505.0 L431.3,487.7" fill="none" stroke="#222" stroke-width="2.44"/>
<path d="M404.9,510.3 L433.1,493.0" fill="none" stroke="#222" stroke-width="2.44"/>
<path d="M410.0,499.9 C409.8,498.7 408.6,494.8 409.1,492.5 C409.5,490.2 411.5,487.6 412.8,486.0 C414.0,484.5 415.9,483.7 416.5,483.3" fill="none" stroke="#222" stroke-width="1.95"/>
<path d="M400.3,504.6 L403.5,511.0" fill="none" stroke="#222" stroke-width="3.66"/>
<ellipse cx="476.7" cy="481.9" rx="5.1" ry="2.3" fill="#fff" stroke="#222" stroke-width="1.6" transform="rotate(0 476.7 481.9)"/>
<path d="M473.9,482.5 C474.4,482.6 475.7,483.3 476.7,483.3 C477.6,483.2 479.0,482.5 479.4,482.3" fill="none" stroke="#222" stroke-width="1.59"/>
<path d="M465.6,490.2 C466.0,490.4 467.3,491.6 468.3,491.6 C469.3,491.6 471.0,490.4 471.6,490.2" fill="none" stroke="#222" stroke-width="1.71"/>
<path d="M465.6,499.0 C466.2,499.2 468.1,500.5 469.3,500.4 C470.4,500.3 472.0,498.8 472.5,498.5" fill="none" stroke="#222" stroke-width="1.71"/>
<path d="M463.7,487.9 L465.6,501.8 L473.9,497.1 L472.0,486.0" fill="none" stroke="#222" stroke-width="1.83"/>
<ellipse cx="432.2" cy="499.2" rx="5.7" ry="4.4" fill="#222" transform="rotate(0 432.2 499.2)"/>
<ellipse cx="432.2" cy="497.1" rx="3.7" ry="1.6" fill="#fff" transform="rotate(0 432.2 497.1)"/>
<ellipse cx="448.9" cy="512.0" rx="6.7" ry="5.4" fill="#222" transform="rotate(0 448.9 512.0)"/>
<ellipse cx="448.9" cy="510.6" rx="3.7" ry="1.9" fill="#fff" transform="rotate(0 448.9 510.6)"/>
<ellipse cx="484.1" cy="498.8" rx="6.7" ry="4.8" fill="#222" transform="rotate(0 484.1 498.8)"/>
<ellipse cx="484.5" cy="496.4" rx="4.3" ry="1.8" fill="#fff" transform="rotate(0 484.5 496.4)"/>
<ellipse cx="448.9" cy="493.9" rx="5.1" ry="5.1" fill="#fff" stroke="#222" stroke-width="2.0" transform="rotate(0 448.9 493.9)"/>
<ellipse cx="448.9" cy="491.1" rx="4.6" ry="2.0" fill="#222" transform="rotate(0 448.9 491.1)"/>
<ellipse cx="448.9" cy="497.1" rx="2.0" ry="1.1" fill="#fff" stroke="#222" stroke-width="1.3" transform="rotate(0 448.9 497.1)"/>
<ellipse cx="459.1" cy="495.3" rx="3.7" ry="5.1" fill="#fff" stroke="#222" stroke-width="2.0" transform="rotate(0 459.1 495.3)"/>
<ellipse cx="459.1" cy="492.1" rx="3.3" ry="1.7" fill="#222" transform="rotate(0 459.1 492.1)"/>
<path d="M444.3,495.3 L444.3,503.6" fill="none" stroke="#222" stroke-width="2.20"/>
<path d="M454.4,495.3 L455.4,502.7" fill="none" stroke="#222" stroke-width="2.20"/>
<path d="M460.0,525.9 C460.1,528.0 460.2,535.7 460.5,538.8 C460.8,541.9 460.5,542.8 461.9,544.4 C463.2,545.9 465.7,547.5 468.3,548.1 C471.0,548.7 475.0,548.5 477.6,548.1 C480.2,547.6 482.7,546.8 484.1,545.3 C485.5,543.8 485.6,542.7 485.9,538.8 C486.2,535.0 485.9,524.9 485.9,522.1" fill="none" stroke="#222" stroke-width="2.44"/>
<path d="M460.0,527.7 C460.9,528.2 463.2,529.9 465.6,530.5 C467.9,531.0 471.1,531.3 473.9,530.9 C476.7,530.6 480.2,529.7 482.2,528.6 C484.2,527.5 485.3,525.2 485.9,524.5" fill="none" stroke="#222" stroke-width="2.44"/>
<path d="M458.1,517.5 C458.8,516.9 460.2,514.7 461.9,513.8 C463.5,512.9 466.0,512.1 468.3,512.0 C470.6,511.8 474.0,512.3 475.7,512.9 C477.4,513.5 478.1,515.2 478.5,515.7" fill="none" stroke="#222" stroke-width="2.44"/>
<path d="M458.1,517.5 C458.3,518.3 458.1,520.9 459.1,522.1 C460.0,523.4 461.9,524.6 463.7,524.9 C465.6,525.2 468.5,524.8 470.2,524.0 C471.9,523.2 472.7,521.5 473.9,520.3 C475.1,519.1 477.0,517.2 477.6,516.6" fill="none" stroke="#222" stroke-width="2.44"/>
<path d="M468.8,517.5 C468.4,517.6 467.1,517.8 466.5,518.3 C465.9,518.7 465.3,519.6 465.4,520.3 C465.4,520.9 466.7,521.8 466.9,522.1" fill="none" stroke="#222" stroke-width="1.95"/>
<ellipse cx="468.8" cy="519.4" rx="1.7" ry="1.7" fill="#fff" stroke="#222" stroke-width="1.4" transform="rotate(0 468.8 519.4)"/>
<path d="M473.9,512.0 C474.5,511.7 476.4,510.3 477.6,510.1 C478.8,510.0 481.1,510.3 481.3,511.0 C481.5,511.8 478.7,514.3 478.5,514.7 C478.4,515.2 479.6,514.3 480.4,513.8 C481.1,513.4 482.7,512.3 483.1,512.0" fill="none" stroke="#222" stroke-width="2.20"/>
<path d="M447.0,528.6 L447.5,548.1 L451.7,548.1 L451.9,528.2" fill="none" stroke="#222" stroke-width="2.20"/>
<path d="M440.6,517.5 L441.0,525.9 L446.1,528.6" fill="none" stroke="#222" stroke-width="2.20"/>
<path d="M456.3,517.5 L456.8,538.8 L460.0,537.9" fill="none" stroke="#222" stroke-width="1.95"/>
<path d="M390.6,519.4 L397.0,518.4 L399.8,525.9 L398.0,533.3 L390.6,529.6 Z" fill="#fff" stroke="#222" stroke-width="2.93"/>
<path d="M393.8,520.3 L394.3,528.6" fill="none" stroke="#222" stroke-width="4.27"/>
<path d="M399.8,525.9 C400.7,523.8 403.7,522.8 406.3,522.1 C408.9,521.5 412.6,521.4 415.6,521.7 C418.5,522.0 421.7,522.7 423.9,524.0 C426.0,525.3 428.5,527.7 428.5,529.6 C428.5,531.4 426.0,533.9 423.9,535.1 C421.7,536.3 418.5,536.5 415.6,537.0 C412.6,537.4 408.7,538.4 406.3,537.9 C403.9,537.4 402.3,536.2 401.2,534.2 C400.1,532.2 399.0,527.9 399.8,525.9 Z" fill="#222" stroke="#222" stroke-width="3.17"/>
<path d="M406.3,529.6 L422.0,529.6" fill="none" stroke="#fff" stroke-width="3.90"/>
<path d="M408.1,533.3 L420.2,533.3" fill="none" stroke="#fff" stroke-width="3.17"/>
<path d="M412.8,528.2 L412.8,534.6" fill="none" stroke="#222" stroke-width="1.95"/>
<path d="M417.4,528.2 L417.4,534.6" fill="none" stroke="#222" stroke-width="1.95"/>
<path d="M429.4,504.6 C429.1,505.9 428.1,510.3 427.6,512.9 C427.1,515.5 426.4,518.1 426.7,520.3 C427.0,522.5 427.7,524.6 429.4,525.9 C431.1,527.1 435.0,527.7 436.9,527.7 C438.7,527.7 439.9,526.2 440.6,525.9" fill="none" stroke="#222" stroke-width="2.44"/>
<path d="M435.0,505.5 C435.6,506.4 437.9,508.9 438.7,511.0 C439.5,513.2 439.5,517.2 439.6,518.4" fill="none" stroke="#222" stroke-width="2.20"/>
<ellipse cx="427.6" cy="519.8" rx="2.0" ry="2.0" fill="#fff" stroke="#222" stroke-width="1.6" transform="rotate(0 427.6 519.8)"/>
<path d="M417.4,514.7 C417.7,514.1 418.2,512.0 419.3,511.0 C420.3,510.0 423.1,509.1 423.9,508.7" fill="none" stroke="#222" stroke-width="1.83"/>
<path d="M431.3,512.9 L433.1,524.0" fill="none" stroke="#222" stroke-width="1.71"/>
<path d="M425.7,537.9 C426.4,539.0 429.0,542.2 429.4,544.4 C429.9,546.5 428.7,549.8 428.5,550.9" fill="none" stroke="#222" stroke-width="2.44"/>
<path d="M433.1,538.8 C434.1,539.4 437.5,541.0 438.7,542.5 C439.9,544.1 440.9,546.4 440.6,548.1 C440.2,549.8 437.5,551.9 436.9,552.7" fill="none" stroke="#222" stroke-width="2.44"/>
<path d="M428.5,550.9 C429.0,551.6 430.5,553.9 431.3,555.5 C432.1,557.0 432.8,559.3 433.1,560.1" fill="none" stroke="#222" stroke-width="3.42"/>
<path d="M436.9,552.7 L435.0,557.3" fill="none" stroke="#222" stroke-width="3.17"/>
<path d="M444.3,550.9 C445.2,551.2 447.8,552.9 449.8,552.7 C451.8,552.5 455.2,550.4 456.3,549.9" fill="none" stroke="#222" stroke-width="2.20"/>
<ellipse cx="431.3" cy="554.6" rx="2.4" ry="3.5" fill="#222" transform="rotate(-20 431.3 554.6)"/>
<path d="M506.7,541.1 C506.8,539.3 507.2,536.4 508.4,535.5 C509.5,534.5 514.3,535.3 515.1,533.8 C515.9,532.3 514.2,526.7 514.5,524.2 C514.8,521.8 515.9,516.9 517.4,515.2 C518.8,513.6 523.1,512.5 525.2,511.9 C527.3,511.3 531.0,510.7 533.1,510.7 C535.2,510.8 538.9,511.9 541.0,512.4 C543.1,513.0 547.0,514.0 548.8,514.7 C550.6,515.3 551.7,516.2 554.4,517.5 C557.1,518.8 566.9,523.9 569.1,524.2 C571.2,524.5 569.8,520.7 570.7,519.7 C571.6,518.8 573.9,517.2 575.8,516.9 C577.7,516.6 583.0,517.9 584.8,517.5 C586.6,517.1 587.9,514.6 589.3,514.1 C590.6,513.6 593.0,512.7 594.9,513.6 C596.9,514.4 602.5,519.3 603.9,520.9 C605.3,522.4 605.0,524.4 605.6,525.3 C606.2,526.3 606.7,525.9 608.4,528.2 C610.1,530.4 616.7,539.1 618.5,542.2 C620.3,545.3 621.2,548.8 621.9,551.2 C622.6,553.6 623.7,557.8 623.9,560.2 C624.1,562.6 624.0,566.9 623.6,569.2 C623.2,571.4 621.9,575.4 620.8,577.0 C619.6,578.7 616.9,580.8 615.1,581.5 C613.3,582.3 607.3,582.2 607.3,582.7 C607.3,583.1 613.6,584.3 615.1,584.9 C616.6,585.5 618.1,586.2 618.5,587.1 C618.9,588.0 618.4,590.6 618.0,591.6 C617.5,592.7 616.4,594.0 615.1,595.0 C613.9,596.0 609.9,599.1 608.4,598.9 C606.9,598.8 605.0,593.8 603.9,593.9 C602.9,594.0 602.2,598.0 600.5,599.5 C598.9,601.0 593.8,603.8 591.5,605.1 C589.3,606.5 585.0,608.1 583.7,609.6 C582.3,611.1 582.6,615.0 581.4,616.4 C580.2,617.7 576.8,619.3 574.7,619.7 C572.6,620.2 567.8,620.3 565.7,619.7 C563.6,619.1 560.1,616.4 558.9,615.2 C557.7,614.0 558.2,610.7 556.7,610.7 C555.2,610.7 549.8,614.0 547.7,615.2 C545.6,616.4 543.4,619.0 541.0,619.7 C538.6,620.5 532.0,620.9 529.7,620.9 C527.5,620.9 525.6,620.2 524.1,619.7 C522.6,619.3 519.7,618.5 518.5,617.5 C517.3,616.4 515.3,613.5 515.1,611.9 C515.0,610.2 518.1,606.2 517.4,605.1 C516.6,604.1 511.3,604.9 509.5,604.0 C507.7,603.1 504.8,600.3 503.9,598.4 C502.9,596.4 502.2,591.5 502.2,589.4 C502.2,587.3 503.2,584.0 503.9,582.7 C504.5,581.3 506.9,580.8 507.2,579.3 C507.6,577.8 506.2,572.9 506.7,571.4 C507.1,569.9 509.9,570.0 510.6,568.0 C511.3,566.1 512.2,559.4 511.7,556.8 C511.3,554.3 507.9,551.0 507.2,548.9 C506.6,546.8 506.5,542.9 506.7,541.1 Z" fill="#fff" stroke="#222" stroke-width="2.32"/>
<path d="M516.8,524.8 L554.4,518.0 L587.0,533.2 L589.3,541.1 L552.8,553.4 L520.2,540.5 Z" fill="none" stroke="#222" stroke-width="2.07"/>
<path d="M520.2,540.5 L514.5,550.1 L516.2,556.8 L536.5,560.2 L541.0,556.8 L548.8,548.9" fill="none" stroke="#222" stroke-width="2.20"/>
<path d="M552.8,553.4 L550.0,566.9 L564.6,570.3 L565.7,556.8 L588.2,548.9 L589.3,541.1" fill="none" stroke="#222" stroke-width="2.20"/>
<path d="M541.0,556.8 L543.2,571.4" fill="none" stroke="#222" stroke-width="1.95"/>
<path d="M520.2,559.1 C520.2,561.5 519.3,570.7 520.2,573.7 C521.0,576.7 522.9,576.5 525.2,577.0 C527.6,577.6 531.6,577.6 534.2,577.0 C536.8,576.5 539.8,574.2 541.0,573.7" fill="none" stroke="#222" stroke-width="2.20"/>
<path d="M543.2,571.4 C543.3,573.7 542.6,582.2 543.8,584.9 C544.9,587.6 547.4,587.3 550.0,587.7 C552.5,588.1 556.1,587.8 558.9,587.1 C561.8,586.5 565.6,586.6 566.8,583.8 C568.0,581.0 566.3,572.5 566.2,570.3" fill="none" stroke="#222" stroke-width="2.20"/>
<path d="M567.9,566.9 C568.0,568.8 567.0,575.7 568.5,578.2 C570.0,580.6 574.0,581.5 576.9,581.5 C579.8,581.5 583.9,579.5 585.9,578.2 C588.0,576.8 588.8,578.2 589.3,573.7 C589.8,569.2 588.8,554.9 588.7,551.2" fill="none" stroke="#222" stroke-width="2.20"/>
<path d="M512.9,556.8 L513.1,570.9" fill="none" stroke="#222" stroke-width="1.95"/>
<path d="M516.8,556.8 L517.0,570.9" fill="none" stroke="#222" stroke-width="1.95"/>
<path d="M556.7,572.8 L557.3,589.4" fill="none" stroke="#222" stroke-width="2.07"/>
<path d="M561.0,572.8 L561.5,589.4" fill="none" stroke="#222" stroke-width="2.07"/>
<path d="M576.4,565.2 L576.9,581.5" fill="none" stroke="#222" stroke-width="1.95"/>
<path d="M579.4,565.2 L580.0,581.5" fill="none" stroke="#222" stroke-width="1.95"/>
<ellipse cx="553.3" cy="538.8" rx="7.0" ry="5.1" fill="#fff" stroke="#222" stroke-width="1.8" transform="rotate(0 553.3 538.8)"/>
<ellipse cx="553.3" cy="541.1" rx="7.0" ry="4.5" fill="none" stroke="#222" stroke-width="1.6" transform="rotate(0 553.3 541.1)"/>
<ellipse cx="553.3" cy="536.6" rx="4.5" ry="2.5" fill="#fff" stroke="#222" stroke-width="1.5" transform="rotate(0 553.3 536.6)"/>
<path d="M547.1,541.6 C547.4,542.2 547.6,544.2 548.8,545.0 C550.0,545.8 552.7,546.5 554.4,546.5 C556.2,546.4 558.7,545.0 559.5,544.7" fill="none" stroke="#222" stroke-width="2.93"/>
<ellipse cx="557.3" cy="557.7" rx="5.8" ry="4.7" fill="#222" transform="rotate(0 557.3 557.7)"/>
<ellipse cx="557.6" cy="555.9" rx="3.6" ry="1.8" fill="#fff" transform="rotate(0 557.6 555.9)"/>
<ellipse cx="591.5" cy="542.2" rx="5.4" ry="4.3" fill="#222" transform="rotate(0 591.5 542.2)"/>
<ellipse cx="591.8" cy="540.5" rx="3.4" ry="1.7" fill="#fff" transform="rotate(0 591.8 540.5)"/>
<ellipse cx="514.0" cy="538.8" rx="5.1" ry="3.6" fill="#222" transform="rotate(0 514.0 538.8)"/>
<ellipse cx="514.0" cy="537.5" rx="3.4" ry="1.5" fill="#fff" transform="rotate(0 514.0 537.5)"/>
<path d="M508.9,541.1 L509.5,548.9 L518.5,551.2" fill="none" stroke="#222" stroke-width="2.07"/>
<path d="M517.4,515.2 L516.2,522.0 L521.9,525.3 L529.7,523.1 L533.1,517.5 L541.0,518.6 L545.5,523.7 L538.7,528.2 L530.8,529.8 L524.1,533.2 L518.5,531.0" fill="none" stroke="#222" stroke-width="2.68"/>
<path d="M523.0,516.4 L528.6,520.9 L535.3,516.4" fill="none" stroke="#222" stroke-width="3.17"/>
<ellipse cx="529.7" cy="517.5" rx="4.5" ry="3.4" fill="#222" transform="rotate(0 529.7 517.5)"/>
<path d="M519.0,530.4 L525.2,532.1 L527.5,536.0 L529.7,533.2" fill="none" stroke="#222" stroke-width="2.68"/>
<path d="M541.0,525.3 C541.3,525.8 542.2,528.0 543.2,528.2 C544.2,528.3 546.5,526.8 547.1,526.5" fill="none" stroke="#222" stroke-width="2.20"/>
<path d="M540.4,530.4 L546.0,532.1" fill="none" stroke="#222" stroke-width="2.20"/>
<path d="M555.6,528.2 L564.6,532.7 L569.1,541.1 L578.1,542.2 L581.4,536.6 L579.2,532.1" fill="none" stroke="#222" stroke-width="2.20"/>
<path d="M574.7,536.6 C574.3,536.8 572.9,537.1 572.4,537.7 C572.0,538.3 571.5,539.4 571.9,540.0 C572.2,540.5 574.2,540.9 574.7,541.1" fill="none" stroke="#222" stroke-width="1.95"/>
<path d="M517.9,549.5 C518.3,549.3 519.6,548.1 520.2,548.4 C520.7,548.7 521.4,550.2 521.3,551.2 C521.2,552.2 519.9,554.0 519.6,554.6" fill="none" stroke="#222" stroke-width="1.95"/>
<path d="M528.6,548.9 L529.2,556.8" fill="none" stroke="#222" stroke-width="1.95"/>
<path d="M532.5,548.9 L533.1,557.4" fill="none" stroke="#222" stroke-width="1.95"/>
<path d="M540.4,548.9 C540.8,549.2 541.8,550.6 542.6,550.6 C543.5,550.6 545.0,549.2 545.5,548.9" fill="none" stroke="#222" stroke-width="1.95"/>
<path d="M543.2,561.3 C543.6,561.6 545.2,562.3 545.5,563.0 C545.7,563.6 545.0,564.9 544.9,565.2" fill="none" stroke="#222" stroke-width="1.95"/>
<path d="M587.6,552.3 C587.3,552.6 585.9,553.3 585.9,554.0 C585.9,554.7 587.3,555.9 587.6,556.2" fill="none" stroke="#222" stroke-width="2.20"/>
<path d="M570.7,519.7 L570.2,524.8 L581.4,528.2 L584.8,517.5" fill="none" stroke="#222" stroke-width="2.07"/>
<path d="M585.9,518.0 L592.7,514.1 L602.8,520.9 L603.9,526.5 L597.2,529.8 L589.3,525.9 Z" fill="#fff" stroke="#222" stroke-width="2.32"/>
<path d="M589.3,519.7 L594.9,517.3 L600.5,522.0 L595.5,524.8" fill="none" stroke="#222" stroke-width="1.83"/>
<path d="M581.4,528.2 L589.3,532.1 L591.5,526.5" fill="none" stroke="#222" stroke-width="2.07"/>
<path d="M594.9,529.8 C597.2,531.2 604.7,534.5 608.4,537.7 C612.1,540.9 615.2,544.8 617.4,548.9 C619.5,553.1 621.0,558.1 621.3,562.4 C621.6,566.7 620.3,571.7 619.1,574.8 C617.9,577.9 614.9,579.9 614.0,581.0" fill="none" stroke="#222" stroke-width="2.20"/>
<path d="M603.9,526.5 C604.8,527.6 607.3,530.4 609.5,533.2 C611.8,536.0 616.1,541.6 617.4,543.3" fill="none" stroke="#222" stroke-width="2.07"/>
<path d="M597.2,537.7 C598.7,539.2 603.9,543.3 606.1,546.7 C608.4,550.1 610.1,554.6 610.6,557.9 C611.2,561.3 610.8,564.7 609.5,566.9 C608.2,569.2 605.4,570.8 602.8,571.4 C600.2,572.1 595.3,570.9 593.8,570.9" fill="none" stroke="#222" stroke-width="2.07"/>
<path d="M597.7,533.2 C598.7,534.5 602.1,538.1 603.9,541.1 C605.7,544.1 607.8,547.6 608.4,551.2 C609.0,554.7 608.4,559.6 607.3,562.4 C606.1,565.2 604.1,567.1 601.7,568.0 C599.2,569.0 594.2,568.0 592.7,568.0" fill="none" stroke="#222" stroke-width="1.83"/>
<path d="M614.0,557.9 C614.4,559.4 616.3,563.9 616.3,566.9 C616.3,569.9 615.3,573.7 614.0,575.9 C612.7,578.2 609.3,579.7 608.4,580.4" fill="none" stroke="#222" stroke-width="1.83"/>
<path d="M591.5,548.9 L592.7,571.4" fill="none" stroke="#222" stroke-width="1.95"/>
<path d="M595.5,546.7 L596.0,570.3" fill="none" stroke="#222" stroke-width="1.71"/>
<path d="M506.7,571.4 L510.6,575.9 L541.0,582.7 L543.2,587.1" fill="none" stroke="#222" stroke-width="2.07"/>
<path d="M570.2,588.3 L597.7,577.0" fill="none" stroke="#222" stroke-width="1.95"/>
<path d="M597.7,573.7 L598.3,582.7 L603.9,584.9 L602.8,593.9" fill="none" stroke="#222" stroke-width="2.07"/>
<path d="M554.4,590.5 C555.0,590.9 556.5,592.6 557.8,592.8 C559.1,593.0 561.6,591.8 562.3,591.6" fill="none" stroke="#222" stroke-width="1.95"/>
<path d="M550.0,602.9 C550.9,603.8 553.3,607.7 555.6,608.5 C557.8,609.2 561.4,607.9 563.4,607.4 C565.5,606.8 567.2,605.5 567.9,605.1" fill="none" stroke="#222" stroke-width="2.07"/>
<ellipse cx="510.4" cy="592.8" rx="7.9" ry="11.0" fill="#fff" stroke="#222" stroke-width="1.8" transform="rotate(-8 510.4 592.8)"/>
<ellipse cx="509.7" cy="592.8" rx="5.8" ry="9.2" fill="#fff" stroke="#222" stroke-width="1.5" transform="rotate(-8 509.7 592.8)"/>
<ellipse cx="537.8" cy="607.9" rx="6.7" ry="9.9" fill="#fff" stroke="#222" stroke-width="1.8" transform="rotate(-12 537.8 607.9)"/>
<ellipse cx="537.1" cy="607.9" rx="4.7" ry="7.9" fill="#fff" stroke="#222" stroke-width="1.4" transform="rotate(-12 537.1 607.9)"/>
<ellipse cx="523.0" cy="610.2" rx="4.7" ry="5.8" fill="#fff" stroke="#222" stroke-width="1.9" transform="rotate(0 523.0 610.2)"/>
<ellipse cx="520.2" cy="613.6" rx="2.9" ry="2.5" fill="#fff" stroke="#222" stroke-width="1.7" transform="rotate(0 520.2 613.6)"/>
<ellipse cx="516.8" cy="615.8" rx="1.6" ry="1.6" fill="#222" transform="rotate(0 516.8 615.8)"/>
<path d="M532.0,584.9 L534.8,581.5" fill="none" stroke="#222" stroke-width="1.83"/>
<path d="M533.1,590.5 L535.3,582.7" fill="none" stroke="#222" stroke-width="1.59"/>
<text x="520.3" y="591.7" font-size="8.5" font-weight="bold" fill="#222">2)</text>
<text x="540.0" y="598.4" font-size="8.5" font-weight="bold" fill="#222">2)</text>
<path d="M576.4,598.4 L600.5,591.1 L601.7,600.6 L578.1,610.2 Z" fill="#fff" stroke="#222" stroke-width="2.32"/>
<path d="M578.1,596.1 L600.0,589.2" fill="none" stroke="#222" stroke-width="1.83"/>
<path d="M588.2,600.6 C587.7,600.8 585.9,601.1 585.4,601.8 C584.8,602.4 584.4,603.9 584.8,604.6 C585.2,605.2 587.1,605.5 587.6,605.7" fill="none" stroke="#222" stroke-width="1.95"/>
<path d="M606.7,586.6 L618.0,589.4 L616.8,593.9 L607.3,597.3" fill="none" stroke="#222" stroke-width="2.20"/>
<ellipse cx="609.5" cy="591.6" rx="1.6" ry="4.7" fill="none" stroke="#222" stroke-width="1.5" transform="rotate(10 609.5 591.6)"/>
<ellipse cx="619.6" cy="585.1" rx="1.1" ry="1.3" fill="#222" transform="rotate(0 619.6 585.1)"/>
<path d="M794.5,527.6 C794.7,535.2 795.4,550.2 795.7,565.3 C796.1,580.3 796.1,593.1 796.4,602.9 C796.6,612.7 795.7,610.2 797.0,614.2 C798.2,618.2 799.2,619.5 802.6,623.0 C806.0,626.5 808.4,628.8 813.9,631.8 C819.5,634.8 824.0,636.4 830.2,638.1 C836.5,639.7 839.8,640.2 845.3,639.9 C850.8,639.7 853.8,638.4 857.9,636.8 C861.9,635.2 863.3,634.5 865.4,631.8 C867.5,629.0 867.5,630.0 868.5,623.0 C869.5,616.0 869.7,608.2 870.4,596.6 C871.2,585.1 871.7,577.0 872.3,565.3 C872.8,553.6 873.0,543.7 873.2,538.3" fill="none" stroke="#222" stroke-width="2.07"/>
<ellipse cx="834.3" cy="523.9" rx="41.8" ry="19.1" fill="#fff" stroke="#222" stroke-width="2.0" transform="rotate(7 834.3 523.9)"/>
<path d="M875.4,535.4 C875.2,535.7 874.8,536.9 874.3,537.6 C873.9,538.4 873.3,539.1 872.6,539.7 C871.9,540.4 871.2,541.1 870.3,541.7 C869.4,542.3 868.5,542.9 867.4,543.4 C866.4,544.0 865.2,544.5 864.0,544.9 C862.8,545.4 861.5,545.8 860.2,546.2 C858.8,546.5 857.4,546.9 855.9,547.1 C854.4,547.4 852.8,547.6 851.2,547.8 C849.7,548.0 848.0,548.1 846.4,548.2 C844.7,548.2 843.0,548.3 841.3,548.2 C839.6,548.2 837.8,548.1 836.1,548.0 C834.3,547.9 832.6,547.7 830.9,547.4 C829.1,547.2 827.4,546.9 825.7,546.6 C824.0,546.3 822.3,545.9 820.7,545.5 C819.0,545.0 817.4,544.6 815.8,544.1 C814.3,543.5 812.8,543.0 811.3,542.4 C809.9,541.8 808.5,541.2 807.1,540.6 C805.8,539.9 804.6,539.2 803.4,538.5 C802.2,537.8 801.2,537.1 800.2,536.3 C799.2,535.5 798.3,534.8 797.5,534.0 C796.6,533.2 795.9,532.4 795.3,531.6 C794.7,530.8 794.2,529.9 793.8,529.1 C793.4,528.3 793.1,527.5 792.9,526.6 C792.8,525.8 792.8,524.6 792.7,524.2" fill="none" stroke="#222" stroke-width="2.20"/>
<path d="M872.8,542.3 C872.5,542.6 871.7,543.5 871.1,544.1 C870.5,544.7 869.8,545.3 869.0,545.8 C868.2,546.3 867.3,546.8 866.4,547.3 C865.5,547.8 864.5,548.2 863.4,548.6 C862.3,549.0 861.2,549.4 860.0,549.8 C858.9,550.1 857.6,550.4 856.4,550.7 C855.1,550.9 853.8,551.2 852.4,551.3 C851.0,551.5 849.6,551.7 848.2,551.8 C846.8,551.9 845.3,552.0 843.8,552.0 C842.3,552.0 840.8,552.0 839.3,551.9 C837.8,551.9 836.3,551.8 834.8,551.6 C833.3,551.5 831.7,551.3 830.2,551.1 C828.7,550.9 827.2,550.6 825.7,550.3 C824.2,550.0 822.7,549.7 821.3,549.3 C819.8,549.0 818.4,548.6 817.1,548.1 C815.7,547.7 814.3,547.2 813.0,546.7 C811.7,546.2 810.5,545.7 809.3,545.2 C808.1,544.6 806.9,544.0 805.8,543.4 C804.8,542.8 803.7,542.2 802.8,541.6 C801.8,540.9 800.9,540.2 800.1,539.6 C799.3,538.9 798.5,538.2 797.9,537.5 C797.2,536.8 796.6,536.1 796.1,535.4 C795.6,534.6 795.1,533.9 794.8,533.2 C794.4,532.5 794.1,531.4 794.0,531.0" fill="none" stroke="#222" stroke-width="1.83"/>
<path d="M863.9,525.7 C863.7,526.3 863.3,528.0 862.5,529.0 C861.6,530.0 860.5,531.0 859.0,531.8 C857.6,532.6 855.8,533.3 853.8,533.9 C851.9,534.5 849.6,534.9 847.3,535.2 C844.9,535.5 842.3,535.6 839.7,535.6 C837.2,535.6 834.4,535.4 831.8,535.1 C829.1,534.7 826.4,534.3 823.9,533.7 C821.4,533.1 818.9,532.3 816.7,531.4 C814.5,530.6 812.4,529.6 810.7,528.6 C808.9,527.6 807.3,526.4 806.2,525.3 C805.0,524.2 804.0,522.9 803.5,521.8 C802.9,520.6 802.7,519.4 802.9,518.2 C803.0,517.1 803.5,516.0 804.3,515.0 C805.1,514.0 806.3,513.0 807.8,512.2 C809.2,511.4 811.0,510.7 812.9,510.1 C814.9,509.5 817.2,509.1 819.5,508.8 C821.9,508.5 824.5,508.4 827.0,508.4 C829.6,508.4 832.4,508.6 835.0,508.9 C837.6,509.2 840.3,509.7 842.8,510.3 C845.3,510.9 847.8,511.7 850.0,512.5 C852.2,513.4 854.3,514.4 856.1,515.4 C857.9,516.4 859.4,517.6 860.6,518.7 C861.8,519.8 862.7,521.1 863.3,522.2 C863.8,523.4 863.8,525.2 863.9,525.7" fill="none" stroke="#222" stroke-width="1.83"/>
<path d="M856.9,529.4 C856.7,529.6 856.0,530.2 855.4,530.5 C854.9,530.9 854.2,531.2 853.6,531.5 C852.9,531.8 852.1,532.1 851.3,532.3 C850.5,532.6 849.7,532.8 848.8,533.0 C847.9,533.2 847.0,533.4 846.0,533.5 C845.0,533.6 844.0,533.7 843.0,533.8 C842.0,533.9 840.9,533.9 839.8,533.9 C838.7,533.9 837.6,533.9 836.5,533.8 C835.4,533.8 834.3,533.7 833.2,533.6 C832.1,533.5 831.0,533.3 829.9,533.1 C828.8,533.0 827.7,532.8 826.6,532.5 C825.5,532.3 824.5,532.0 823.4,531.7 C822.4,531.5 821.4,531.1 820.4,530.8 C819.5,530.5 818.6,530.1 817.7,529.7 C816.8,529.4 816.0,529.0 815.2,528.6 C814.4,528.1 813.7,527.7 813.0,527.3 C812.3,526.8 811.7,526.4 811.1,525.9 C810.6,525.5 810.1,525.0 809.7,524.5 C809.3,524.0 808.9,523.5 808.6,523.1 C808.4,522.6 808.1,522.1 808.0,521.6 C807.9,521.1 807.8,520.7 807.8,520.2 C807.8,519.7 807.9,519.3 808.1,518.8 C808.2,518.4 808.4,517.9 808.7,517.5 C809.0,517.1 809.6,516.5 809.8,516.3" fill="none" stroke="#222" stroke-width="1.71"/>
<path d="M859.0,536.2 C858.8,536.3 858.0,536.7 857.5,537.0 C856.9,537.2 856.3,537.4 855.7,537.7 C855.1,537.9 854.5,538.1 853.8,538.3 C853.2,538.5 852.5,538.7 851.8,538.8 C851.1,539.0 850.3,539.1 849.6,539.2 C848.8,539.4 848.0,539.5 847.3,539.6 C846.5,539.7 845.7,539.8 844.8,539.8 C844.0,539.9 843.2,539.9 842.3,540.0 C841.5,540.0 840.6,540.0 839.7,540.0 C838.9,540.0 838.0,540.0 837.1,539.9 C836.2,539.9 835.3,539.8 834.4,539.7 C833.6,539.7 832.7,539.6 831.8,539.5 C830.9,539.4 830.0,539.2 829.1,539.1 C828.2,538.9 827.4,538.8 826.5,538.6 C825.6,538.4 824.8,538.3 823.9,538.0 C823.1,537.8 822.3,537.6 821.4,537.4 C820.6,537.2 819.8,536.9 819.0,536.7 C818.2,536.4 817.5,536.1 816.7,535.8 C816.0,535.6 815.3,535.3 814.6,534.9 C813.9,534.6 813.2,534.3 812.5,534.0 C811.9,533.7 811.3,533.3 810.7,533.0 C810.1,532.6 809.5,532.3 809.0,531.9 C808.4,531.6 807.9,531.2 807.5,530.8 C807.0,530.4 806.4,529.9 806.2,529.7" fill="none" stroke="#222" stroke-width="1.59"/>
<path d="M825.2,507.6 L845.3,509.1 L840.3,518.6 L820.2,517.0 Z" fill="#fff" stroke="#222" stroke-width="1.83"/>
<path d="M820.2,517.0 L840.3,518.6 L839.3,527.6 L816.4,522.0 Z" fill="#fff" stroke="#222" stroke-width="1.83"/>
<path d="M845.3,509.1 L850.3,513.8 L840.3,518.6" fill="none" stroke="#222" stroke-width="1.71"/>
<path d="M847.2,513.2 L852.8,512.0 L856.6,515.7 L855.4,520.7 L850.3,521.4 L846.6,518.2 Z" fill="#222" stroke="#222" stroke-width="1.46"/>
<path d="M842.2,522.4 L857.9,523.9 L859.1,527.4 L843.4,526.1 Z" fill="#fff" stroke="#222" stroke-width="1.71"/>
<path d="M801.4,547.1 L803.3,581.6 L811.4,584.7 L812.0,562.8 L825.9,566.8 L825.2,589.7 L832.1,591.6 L837.8,589.1 L842.2,558.4 L835.9,557.1 L835.3,562.1 L807.0,552.1 L806.4,547.1 Z" fill="none" stroke="#222" stroke-width="1.95"/>
<path d="M814.2,563.4 L814.8,582.6 L825.2,585.4" fill="none" stroke="#222" stroke-width="1.59"/>
<path d="M835.9,562.1 L832.8,590.4" fill="none" stroke="#222" stroke-width="1.46"/>
<path d="M802.0,549.0 L806.4,550.2" fill="none" stroke="#222" stroke-width="2.68"/>
<path d="M711.1,555.0 C713.4,554.5 720.1,552.1 724.9,552.0 C729.6,551.9 735.3,552.7 739.8,554.5 C744.4,556.2 747.3,558.4 752.3,562.5 C757.3,566.5 764.0,573.1 769.8,578.7 C775.6,584.3 784.3,593.3 787.3,596.2" fill="none" stroke="#222" stroke-width="1.95"/>
<path d="M712.4,562.5 C714.5,561.7 720.5,558.3 724.9,558.0 C729.2,557.6 734.4,558.8 738.6,560.5 C742.7,562.1 745.5,564.3 749.8,568.0 C754.2,571.6 759.2,576.9 764.8,582.4 C770.4,588.0 780.4,598.1 783.5,601.2" fill="none" stroke="#222" stroke-width="1.95"/>
<path d="M711.1,555.0 C710.7,555.6 708.2,557.2 708.4,558.5 C708.6,559.7 711.7,561.8 712.4,562.5" fill="none" stroke="#222" stroke-width="1.95"/>
<circle cx="788.8" cy="599.2" r="3.6" fill="#fff" stroke="#222" stroke-width="1.6"/>
<circle cx="793.2" cy="603.6" r="2.4" fill="#fff" stroke="#222" stroke-width="1.6"/>
<path d="M796.8,715.9 L803.5,711.7 L818.5,715.9 L818.5,720.4 L811.8,718.7 L805.1,719.7 L798.4,718.7 Z" fill="#fff" stroke="#222" stroke-width="1.95"/>
<path d="M803.5,712.0 L808.5,716.7 L818.5,716.7" fill="none" stroke="#222" stroke-width="1.59"/>
<path d="M808.5,716.7 L806.0,719.4" fill="none" stroke="#222" stroke-width="1.59"/>
<path d="M801.0,719.2 L801.8,740.1" fill="none" stroke="#222" stroke-width="1.95"/>
<path d="M807.6,719.7 L807.1,741.7" fill="none" stroke="#222" stroke-width="1.95"/>
<path d="M811.3,718.7 L812.1,743.4" fill="none" stroke="#222" stroke-width="2.44"/>
<path d="M787.6,733.4 L787.6,729.2 L792.6,726.7 L793.8,731.7 L801.8,734.2" fill="none" stroke="#222" stroke-width="2.20"/>
<path d="M812.1,738.4 L826.8,743.7 L830.2,740.9 L830.2,750.4 L826.8,749.7 L826.8,743.7" fill="none" stroke="#222" stroke-width="2.20"/>
<path d="M745.0,730.9 C746.5,729.4 751.5,726.0 755.0,725.9 C758.6,725.8 766.2,728.4 771.7,730.0 C777.3,731.7 790.8,736.1 796.8,738.4 C802.8,740.7 811.5,745.1 816.8,747.6 C822.2,750.0 831.5,755.0 836.8,756.7 C842.2,758.5 851.1,759.9 856.9,760.9 C862.7,761.9 873.8,763.3 880.3,764.3 C886.7,765.3 900.5,767.4 905.3,768.4 C910.1,769.4 914.6,771.2 916.1,771.8 C917.7,772.3 916.8,771.0 916.6,772.6 C916.5,774.2 916.2,781.2 915.3,783.4 C914.5,785.7 912.7,789.2 910.3,789.3 C907.9,789.4 901.0,785.2 896.9,784.3 C892.9,783.4 885.6,783.2 880.3,782.6 C874.9,782.1 862.7,780.9 856.9,780.1 C851.1,779.3 842.2,778.3 836.8,776.8 C831.5,775.2 822.2,771.0 816.8,768.4 C811.5,765.9 802.8,760.2 796.8,757.6 C790.8,754.9 777.3,750.2 771.7,748.4 C766.2,746.6 758.4,744.7 755.0,744.2 C751.7,743.8 748.1,746.1 746.7,745.1 C745.2,744.1 744.4,738.6 744.2,736.7 C744.0,734.8 743.6,732.3 745.0,730.9 Z" fill="#fff" stroke="#222" stroke-width="3.17"/>
<path d="M745.0,730.9 C746.4,730.2 751.5,726.0 755.0,725.9 C758.6,725.8 766.2,728.4 771.7,730.0 C777.3,731.7 790.8,736.1 796.8,738.4 C802.8,740.7 811.5,745.1 816.8,747.6 C822.2,750.0 831.5,755.0 836.8,756.7 C842.2,758.5 851.1,759.9 856.9,760.9 C862.7,761.9 873.8,763.3 880.3,764.3 C886.7,765.3 900.5,767.4 905.3,768.4 C910.1,769.4 914.7,771.3 916.1,771.8" fill="none" stroke="#222" stroke-width="3.90"/>
<path d="M758.4,733.7 C761.3,734.6 772.7,737.3 780.1,740.1 C787.4,742.8 805.9,751.2 813.5,754.2 C821.0,757.2 831.1,761.0 836.8,762.6 C842.6,764.1 849.8,764.7 856.9,765.9 C864.0,767.1 885.8,771.0 890.3,771.8" fill="none" stroke="#222" stroke-width="1.83"/>
<path d="M759.2,740.1 C762.0,740.9 772.8,744.0 780.1,746.7 C787.3,749.5 805.9,757.9 813.5,760.9 C821.0,763.9 831.1,767.7 836.8,769.3 C842.6,770.8 849.8,771.8 856.9,772.6 C864.0,773.4 885.8,775.1 890.3,775.4" fill="none" stroke="#222" stroke-width="2.68"/>
<path d="M760.1,737.1 C762.7,737.9 773.0,740.7 780.1,743.4 C787.2,746.1 805.9,754.6 813.5,757.6 C821.0,760.6 831.1,764.4 836.8,765.9 C842.6,767.5 850.0,768.3 856.9,769.3 C863.8,770.3 884.4,772.9 888.6,773.4" fill="none" stroke="#222" stroke-width="1.22"/>
<path d="M758.4,733.7 L759.2,740.1" fill="none" stroke="#222" stroke-width="1.83"/>
<path d="M890.3,771.8 L890.6,775.4" fill="none" stroke="#222" stroke-width="1.83"/>
<path d="M896.9,771.3 L897.3,783.8" fill="none" stroke="#222" stroke-width="1.83"/>
<path d="M756.7,731.7 L757.5,744.2" fill="none" stroke="#222" stroke-width="1.59"/>
<circle cx="751.7" cy="737.6" r="2" fill="#fff" stroke="#222" stroke-width="1.3"/>
<circle cx="906.1" cy="775.9" r="2" fill="#fff" stroke="#222" stroke-width="1.3"/>
<path d="M790.9,760.9 L792.6,768.4 L798.4,772.6 L803.5,783.4 L804.8,820.5 L808.5,821.8 L809.3,772.6" fill="none" stroke="#222" stroke-width="2.07"/>
<path d="M812.6,770.1 L812.1,822.7 L816.0,824.8 L821.0,823.5 L821.5,798.5 L819.3,790.1 L826.0,783.4 L826.8,773.4 L821.0,770.1" fill="none" stroke="#222" stroke-width="2.07"/>
<path d="M817.1,791.8 L816.8,823.5" fill="none" stroke="#222" stroke-width="1.46"/>
<path d="M755.0,748.4 L733.3,758.4 L751.7,766.8" fill="none" stroke="#222" stroke-width="1.71" stroke-dasharray="7 4"/>
<path d="M886.9,785.9 L856.9,800.1" fill="none" stroke="#222" stroke-width="1.71" stroke-dasharray="7 4"/>
<line x1="765.9" y1="772.1" x2="753.0" y2="767.1" stroke="#222" stroke-width="4.6" stroke-linecap="round"/>
<circle cx="765.9" cy="772.1" r="5.0" fill="#222"/>
<circle cx="767.2" cy="772.6" r="2.9" fill="#e8e8e8"/>
<circle cx="767.2" cy="772.6" r="1.2" fill="#222"/>
<line x1="844.9" y1="806.0" x2="855.5" y2="799.5" stroke="#222" stroke-width="4.6" stroke-linecap="round"/>
<circle cx="844.9" cy="806.0" r="5.0" fill="#222"/>
<circle cx="843.8" cy="806.6" r="2.9" fill="#e8e8e8"/>
<circle cx="843.8" cy="806.6" r="1.2" fill="#222"/>
<path d="M645.1,850.6 C644.1,848.2 640.7,838.9 638.4,834.7 C636.2,830.6 632.3,825.2 630.1,823.1 C627.8,820.9 625.4,820.7 623.4,820.6 C621.4,820.4 619.2,822.4 616.7,822.2 C614.2,822.1 609.1,820.7 606.7,819.7 C604.3,818.7 601.4,817.4 600.9,815.6 C600.4,813.7 602.2,809.5 603.4,807.2 C604.5,805.0 607.7,803.2 608.7,800.5 C609.6,797.9 609.0,792.4 609.7,789.7 C610.4,787.0 611.6,784.4 613.4,782.7 C615.2,781.0 618.6,779.1 621.7,778.3 C624.8,777.6 630.4,777.7 634.2,777.7 C638.1,777.6 644.9,777.3 647.6,778.0 C650.3,778.8 651.4,782.0 652.1,782.7" fill="none" stroke="#222" stroke-width="2.56"/>
<path d="M652.1,782.7 C654.1,783.7 660.9,787.4 665.1,789.7 C669.3,792.0 676.4,795.8 680.2,798.0 C683.9,800.2 688.1,802.0 690.2,804.4 C692.2,806.8 693.1,810.7 693.8,813.9 C694.5,817.1 694.4,823.4 694.8,825.6 C695.3,827.7 696.3,828.8 696.8,828.4 C697.4,828.0 698.0,823.3 698.5,823.1 C699.1,822.8 699.6,825.0 700.5,826.7 C701.4,828.5 702.8,832.5 704.4,834.7 C705.9,836.9 708.4,839.8 711.0,841.4 C713.7,843.0 719.3,845.2 721.9,845.6 C724.5,846.0 726.8,845.0 728.6,843.9 C730.3,842.8 732.2,840.7 733.6,838.1 C734.9,835.5 736.6,828.8 737.7,826.4 C738.9,824.0 740.6,822.9 741.1,822.2" fill="none" stroke="#222" stroke-width="2.56"/>
<path d="M741.1,822.2 L743.6,828.4 L745.3,825.6 L748.6,824.7 L751.6,829.4 L750.3,834.7" fill="none" stroke="#222" stroke-width="2.56"/>
<path d="M750.3,834.7 C748.9,837.0 742.9,847.2 740.3,851.4 C737.6,855.7 733.9,862.9 730.2,866.4 C726.6,870.0 715.0,876.6 712.7,878.1" fill="none" stroke="#222" stroke-width="2.56"/>
<path d="M744.4,832.2 C743.2,834.4 737.8,844.2 735.2,848.1 C732.7,852.0 728.6,858.8 725.2,861.4 C721.9,864.1 712.2,867.2 710.2,868.1" fill="none" stroke="#222" stroke-width="2.56"/>
<path d="M741.1,823.1 L742.8,831.4" fill="none" stroke="#222" stroke-width="1.59"/>
<path d="M651.8,786.4 C653.8,787.4 661.4,790.8 665.1,793.0 C668.9,795.3 674.1,798.4 676.8,801.4 C679.6,804.4 681.7,809.5 683.5,813.1 C685.2,816.6 687.5,822.0 688.5,824.7 C689.5,827.5 687.9,828.7 690.2,831.4 C692.4,834.2 699.5,840.1 703.5,843.1 C707.5,846.1 713.6,849.7 716.9,851.4 C720.1,853.2 724.0,854.3 725.2,854.8" fill="none" stroke="#222" stroke-width="1.59"/>
<path d="M614.2,787.7 v3.6 a6.7,4.2 0 0 0 13.4,0 v-3.6" fill="#fff" stroke="#222" stroke-width="1.5"/>
<ellipse cx="620.9" cy="787.7" rx="6.7" ry="4.2" fill="#fff" stroke="#222" stroke-width="1.5"/>
<path d="M618.9,787.2 q2,2 4,0" fill="none" stroke="#222" stroke-width="1"/>
<path d="M635.1,782.7 v3.6 a6.7,4.2 0 0 0 13.4,0 v-3.6" fill="#fff" stroke="#222" stroke-width="1.5"/>
<ellipse cx="641.8" cy="782.7" rx="6.7" ry="4.2" fill="#fff" stroke="#222" stroke-width="1.5"/>
<path d="M639.8,782.2 q2,2 4,0" fill="none" stroke="#222" stroke-width="1"/>
<path d="M635.4,796.7 v3.6 a6.7,4.2 0 0 0 13.4,0 v-3.6" fill="#fff" stroke="#222" stroke-width="1.5"/>
<ellipse cx="642.1" cy="796.7" rx="6.7" ry="4.2" fill="#fff" stroke="#222" stroke-width="1.5"/>
<path d="M640.1,796.2 q2,2 4,0" fill="none" stroke="#222" stroke-width="1"/>
<path d="M617.5,803.9 C619.4,804.7 623.8,807.9 628.4,808.9 C633.0,809.9 640.4,810.3 645.1,809.7 C649.8,809.2 653.3,806.9 656.8,805.5 C660.3,804.2 664.4,802.1 666.0,801.4" fill="none" stroke="#222" stroke-width="1.71"/>
<path d="M634.2,813.1 C635.8,814.4 640.2,819.3 643.4,821.4 C646.6,823.5 651.2,826.1 653.4,825.6 C655.7,825.0 655.9,821.1 656.8,818.1 C657.6,815.0 658.2,809.0 658.4,807.2" fill="none" stroke="#222" stroke-width="1.71"/>
<ellipse cx="608.7" cy="813.4" rx="3.2" ry="2.4" fill="#222"/>
<path d="M608.7,800.5 L608.0,809.7" fill="none" stroke="#222" stroke-width="1.59"/>
<path d="M686.8,832.2 L654.3,848.1 L656.8,861.8" fill="none" stroke="#222" stroke-width="2.07"/>
<path d="M656.8,862.3 C659.4,862.7 678.1,865.9 683.5,866.4 C688.8,867.0 707.5,867.9 710.2,868.1" fill="none" stroke="#222" stroke-width="2.56"/>
<path d="M710.2,868.1 L711.9,878.5" fill="none" stroke="#222" stroke-width="2.07"/>
<path d="M646.8,866.4 C648.8,866.9 662.5,870.6 666.8,871.5 C671.1,872.3 685.7,874.4 690.2,875.1 C694.7,875.9 709.7,878.4 711.9,878.8" fill="none" stroke="#222" stroke-width="2.56"/>
<path d="M643.4,854.8 L646.8,850.6 L651.8,853.1 L654.3,862.3 L646.8,866.4 L643.4,861.4 Z" fill="none" stroke="#222" stroke-width="2.20"/>
<path d="M686.8,839.8 C684.6,840.9 676.8,844.2 673.5,846.4 C670.1,848.6 667.5,850.9 666.8,853.1 C666.1,855.3 668.2,858.2 669.3,859.8 C670.4,861.3 672.8,861.9 673.5,862.3" fill="none" stroke="#222" stroke-width="1.71"/>
<ellipse cx="676.0" cy="854.8" rx="4.6" ry="3.1" fill="#fff" stroke="#222" stroke-width="1.4"/>
<path d="M677.5,853.8 a2,1.6 0 1 0 0.3,2.2" fill="none" stroke="#222" stroke-width="1.1"/>
<ellipse cx="705.2" cy="849.3" rx="2.6" ry="2" fill="#222"/>
<circle cx="647.6" cy="858.1" r="1.2" fill="#222"/>
<path d="M647.6,866.4 C648.1,867.9 650.2,874.4 650.9,876.5 C651.7,878.5 652.5,878.2 652.6,880.0 C652.7,881.8 652.6,884.6 651.8,888.3 C650.9,892.1 648.5,899.8 646.8,905.0 C645.0,910.3 641.8,919.8 640.1,923.4 C638.3,927.0 636.5,928.0 635.1,929.2 C633.7,930.5 631.8,930.6 630.9,931.7 C630.0,932.9 629.4,935.1 629.2,936.7 C629.1,938.4 629.3,941.2 630.1,942.6 C630.8,943.9 632.7,945.3 634.2,945.9 C635.7,946.5 638.2,947.0 640.1,946.7 C642.0,946.5 644.5,945.5 646.8,944.2 C649.0,943.0 653.5,939.7 655.1,938.4 C656.7,937.2 657.2,936.3 657.6,935.9" fill="none" stroke="#222" stroke-width="2.56"/>
<path d="M654.3,868.1 C654.6,870.1 656.2,878.2 656.3,881.5 C656.4,884.7 656.0,886.2 655.1,890.0 C654.2,893.8 651.9,901.4 650.1,906.7 C648.3,912.0 644.4,922.3 643.4,925.1" fill="none" stroke="#222" stroke-width="1.71"/>
<path d="M676.8,874.8 C676.1,876.1 672.5,882.3 671.8,884.8 C671.1,887.3 672.9,889.3 671.8,893.3 C670.7,897.4 665.6,909.5 663.5,915.0 C661.3,920.6 656.9,932.4 655.9,935.1" fill="none" stroke="#222" stroke-width="2.56"/>
<path d="M682.7,876.5 C681.9,878.0 677.9,885.7 676.8,888.1 C675.7,890.6 675.8,891.2 674.3,895.0 C672.9,898.8 668.2,911.3 666.0,916.7 C663.7,922.2 658.7,933.3 657.6,935.9" fill="none" stroke="#222" stroke-width="2.20"/>
<ellipse cx="638.4" cy="939.2" rx="2.4" ry="2" fill="#222"/>
<path d="M643.4,928.4 L650.1,932.6" fill="none" stroke="#222" stroke-width="1.46" stroke-dasharray="4 3"/>
<path d="M688.5,879.0 C689.2,880.2 691.9,886.0 693.5,888.1 C695.1,890.3 698.6,893.7 700.2,894.8 C701.7,896.0 703.9,897.1 705.2,896.7 C706.5,896.3 709.9,893.0 710.2,891.7 C710.5,890.3 708.1,888.2 707.7,886.7 C707.3,885.1 707.1,881.0 706.9,880.0 C706.6,879.0 706.1,879.1 706.0,879.0" fill="none" stroke="#222" stroke-width="2.32"/>
<ellipse cx="703.5" cy="898.7" rx="2.2" ry="2.6" fill="#222"/>
<path d="M621.7,823.4 L621.7,863.9" fill="none" stroke="#222" stroke-width="1.71" stroke-dasharray="7 4"/>
<path d="M703.5,902.5 L703.5,952.1" fill="none" stroke="#222" stroke-width="1.71" stroke-dasharray="7 4"/>
<path d="M636.4,891.5 L638.4,928.4" fill="none" stroke="#222" stroke-width="1.59" stroke-dasharray="7 4"/>
<path d="M590.0,800.5 L607.5,794.7" fill="none" stroke="#222" stroke-width="1.71" stroke-dasharray="7 4"/>
<ellipse cx="622.6" cy="868.1" rx="5.2" ry="3.9" fill="#222"/>
<rect x="699.3" y="953.4" width="9.2" height="7.0" rx="1.8" fill="#222"/>
<rect x="634.8" y="876.0" width="3.8" height="13.5" fill="#222"/>
<path d="M632.1,872.5 v4.2 a4.6,2.6 0 0 0 9.2,0 v-4.2" fill="#fff" stroke="#222" stroke-width="1.5"/>
<ellipse cx="636.7" cy="872.5" rx="4.6" ry="2.8" fill="#fff" stroke="#222" stroke-width="1.5"/>
<path d="M527.4,1159.9 C524.6,1157.9 516.5,1152.8 512.4,1148.7 C508.3,1144.6 507.0,1141.8 504.9,1137.5 C502.8,1133.1 501.1,1130.5 501.1,1125.0 C501.2,1119.4 503.1,1114.2 505.0,1107.3 C506.8,1100.4 508.7,1094.2 511.2,1087.3 C513.7,1080.5 515.7,1075.4 518.7,1069.9 C521.7,1064.4 524.0,1062.9 527.5,1057.4 C530.9,1051.9 532.9,1046.3 537.4,1039.9 C542.0,1033.5 546.5,1028.1 552.4,1022.4 C558.4,1016.7 564.4,1012.1 569.9,1008.7 C575.4,1005.3 577.8,1006.7 582.4,1003.7 C586.9,1000.7 589.4,995.4 594.8,992.5 C600.3,989.5 605.0,988.8 612.3,987.5 C619.6,986.1 626.1,985.7 634.8,985.0 C643.5,984.3 651.5,983.0 659.7,983.7 C668.0,984.4 673.8,987.9 679.7,988.7 C685.7,989.5 687.1,985.9 692.2,988.0 C697.2,990.0 702.1,995.7 707.2,1000.0 C712.2,1004.2 715.3,1008.7 719.6,1011.2 C724.0,1013.7 727.2,1010.7 730.9,1013.7 C734.5,1016.7 736.9,1022.2 739.6,1027.4 C742.4,1032.7 744.0,1036.4 745.8,1042.4 C747.7,1048.3 748.9,1053.5 749.6,1059.9 C750.3,1066.3 749.6,1074.1 749.6,1077.4" fill="none" stroke="#222" stroke-width="2.56"/>
<path d="M527.4,1159.9 C531.0,1161.1 540.0,1164.6 547.3,1166.2 C554.6,1167.8 560.9,1168.2 567.3,1168.7 C573.7,1169.1 577.7,1170.3 582.3,1168.7 C586.8,1167.1 589.5,1163.8 592.2,1159.9 C595.0,1156.0 595.9,1152.9 597.2,1147.4 C598.6,1141.9 599.0,1135.9 599.7,1130.0 C600.4,1124.0 600.5,1120.3 601.1,1114.8 C601.7,1109.3 601.5,1104.4 602.8,1099.8 C604.2,1095.2 607.7,1093.0 608.6,1089.8 C609.4,1086.6 608.1,1084.6 607.3,1082.3 C606.5,1080.1 604.6,1081.0 604.3,1077.4 C604.1,1073.7 604.6,1067.9 606.1,1062.4 C607.5,1056.9 609.3,1052.0 612.3,1047.4 C615.3,1042.8 618.2,1040.4 622.3,1037.4 C626.4,1034.4 629.7,1032.5 634.8,1031.2 C639.8,1029.8 644.7,1028.8 649.8,1029.9 C654.8,1031.1 658.6,1036.0 662.2,1037.4 C665.9,1038.8 664.7,1037.9 669.7,1037.4 C674.8,1036.9 682.8,1035.6 689.7,1034.9 C696.6,1034.2 700.8,1035.9 707.2,1033.7 C713.6,1031.4 720.3,1024.9 724.6,1022.4 C729.0,1019.9 729.7,1020.4 730.9,1019.9" fill="none" stroke="#222" stroke-width="2.56"/>
<path d="M669.7,1037.9 C671.4,1040.3 676.4,1047.1 679.7,1052.4 C683.0,1057.7 686.4,1064.5 689.7,1069.9 C693.0,1075.3 695.9,1080.7 699.7,1084.8 C703.4,1089.0 708.8,1092.4 712.1,1094.8 C715.5,1097.2 715.9,1098.3 719.6,1099.3 C723.4,1100.4 732.1,1100.8 734.6,1101.1" fill="none" stroke="#222" stroke-width="2.20"/>
<path d="M725.9,1042.4 C726.7,1045.3 729.6,1053.6 730.9,1059.9 C732.1,1066.1 732.7,1073.0 733.4,1079.9 C734.0,1086.7 734.4,1097.5 734.6,1101.1" fill="none" stroke="#222" stroke-width="1.71"/>
<path d="M730.9,1019.9 C732.3,1022.4 737.1,1028.2 739.6,1034.9 C742.1,1041.6 744.6,1052.8 745.8,1059.9 C747.1,1066.9 747.1,1072.7 747.1,1077.4 C747.1,1082.0 746.1,1086.1 745.8,1087.8" fill="none" stroke="#222" stroke-width="1.71"/>
<path d="M749.6,1077.4 L753.3,1087.3 L755.8,1102.8 L747.1,1109.8 L739.6,1108.6 L734.6,1101.8" fill="none" stroke="#222" stroke-width="2.56"/>
<path d="M745.8,1088.6 L753.3,1087.3" fill="none" stroke="#222" stroke-width="1.71"/>
<path d="M745.8,1088.6 L748.3,1107.3" fill="none" stroke="#222" stroke-width="1.71"/>
<path d="M583.6,1048.6 C586.3,1046.4 593.8,1039.5 599.8,1034.9 C605.9,1030.3 612.3,1025.5 619.8,1021.2 C627.3,1016.8 637.3,1012.0 644.8,1008.7 C652.2,1005.4 658.3,1003.0 664.7,1001.2 C671.2,999.4 680.3,998.5 683.4,998.0" fill="none" stroke="#222" stroke-width="1.34"/>
<path d="M692.2,1006.2 C693.4,1007.9 697.9,1013.0 699.7,1016.2 C701.4,1019.4 702.2,1023.9 702.7,1025.4" fill="none" stroke="#222" stroke-width="1.34"/>
<path d="M592.3,1067.4 C593.6,1064.9 596.9,1057.0 599.8,1052.4 C602.7,1047.8 606.1,1043.9 609.8,1039.9 C613.6,1035.9 617.9,1031.6 622.3,1028.7 C626.7,1025.8 633.7,1023.5 636.0,1022.4" fill="none" stroke="#222" stroke-width="1.59"/>
<path d="M574.9,1061.1 C573.6,1064.2 569.5,1073.4 567.4,1079.9 C565.3,1086.3 563.6,1093.2 562.4,1099.8 C561.1,1106.5 560.5,1114.0 559.9,1119.8 C559.3,1125.6 558.9,1132.3 558.7,1134.8" fill="none" stroke="#222" stroke-width="1.34"/>
<path d="M505.0,1122.3 C506.7,1124.4 510.6,1130.4 515.0,1134.8 C519.3,1139.2 528.5,1146.2 531.2,1148.5" fill="none" stroke="#222" stroke-width="1.34"/>
<path d="M604.3,1054.1 a2.2,2.2 0 1 0 0.5,3.5" fill="none" stroke="#222" stroke-width="1.2"/>
<path d="M633.8,1025.9 a2.2,2.2 0 1 0 0.5,3.5" fill="none" stroke="#222" stroke-width="1.2"/>
<path d="M541.2,1157.3 C541.2,1155.0 540.8,1146.5 541.2,1143.5 C541.6,1140.5 542.4,1140.1 543.7,1139.3 C544.9,1138.4 547.4,1138.1 548.7,1138.5 C549.9,1138.9 550.7,1138.2 551.2,1141.8 C551.7,1145.4 551.6,1157.0 551.7,1160.0" fill="none" stroke="#222" stroke-width="1.71"/>
<path d="M547.7,1144.0 a2,2 0 1 0 0.5,3.3" fill="none" stroke="#222" stroke-width="1.1"/>
<path d="M564.8,1100.0 C564.2,1102.9 562.1,1111.9 561.1,1117.5 C560.0,1123.1 559.0,1131.0 558.6,1133.7" fill="none" stroke="#222" stroke-width="1.34"/>
<path d="M503.6,1123.7 C505.5,1126.0 510.3,1133.3 514.9,1137.5 C519.5,1141.6 528.4,1146.8 531.1,1148.7" fill="none" stroke="#222" stroke-width="1.34"/>
<path d="M512.4,1146.2 C510.9,1148.5 505.7,1155.1 503.6,1159.9 C501.6,1164.7 501.1,1169.1 499.9,1174.9 C498.7,1180.7 496.8,1188.2 496.2,1194.9 C495.5,1201.5 495.7,1207.4 496.2,1214.9 C496.6,1222.3 497.6,1232.3 498.7,1239.8 C499.7,1247.3 501.1,1255.6 502.4,1259.8 C503.6,1264.0 505.5,1264.0 506.1,1264.8" fill="none" stroke="#222" stroke-width="2.56"/>
<path d="M506.1,1264.8 C503.4,1266.5 494.3,1272.7 489.9,1274.8 C485.5,1276.9 484.0,1274.9 479.9,1277.5 C475.7,1280.0 469.9,1284.9 464.9,1289.9 C459.9,1294.9 454.1,1301.2 449.9,1307.4 C445.8,1313.7 442.6,1320.3 439.9,1327.4 C437.2,1334.5 435.2,1342.8 433.7,1349.9 C432.2,1356.9 431.6,1366.5 431.2,1369.8" fill="none" stroke="#222" stroke-width="2.56"/>
<path d="M431.2,1369.8 L434.9,1374.8 L446.2,1372.3 L446.2,1366.1 L444.4,1357.4 L448.7,1353.6 L453.7,1357.4 L456.2,1347.4 L467.4,1342.4 L482.4,1338.6 L492.3,1341.1 L502.3,1341.1 L503.6,1333.6 L507.3,1331.1 L511.1,1336.1 L529.8,1327.4 L549.8,1318.7 L553.5,1309.9 L557.2,1307.4 L559.7,1312.4 L564.7,1311.2 L569.7,1306.2 L573.5,1306.2 L572.2,1289.9 L571.7,1270.0 L572.2,1260.0 L594.7,1252.5" fill="none" stroke="#222" stroke-width="2.56"/>
<path d="M553.6,1187.4 L564.8,1193.6 L579.8,1196.1 L587.3,1198.6 L591.0,1207.4 L594.7,1211.1 L591.0,1219.9 L596.0,1232.3 L589.8,1236.1 L579.8,1229.8 L574.8,1231.1 L577.3,1239.8 L582.3,1242.3 L594.7,1249.8 L572.3,1259.8 L569.8,1279.8 L572.2,1260.0" fill="none" stroke="#222" stroke-width="2.56"/>
<path d="M512.4,1146.2 C514.0,1149.3 518.6,1159.7 522.4,1164.9 C526.1,1170.1 531.5,1174.3 534.8,1177.4 C538.2,1180.5 541.1,1182.6 542.3,1183.6" fill="none" stroke="#222" stroke-width="2.56"/>
<path d="M542.3,1196.1 C542.3,1193.4 541.5,1183.2 542.3,1179.9 C543.2,1176.6 545.5,1176.4 547.3,1176.2 C549.2,1175.9 552.5,1175.0 553.6,1178.7 C554.6,1182.3 553.6,1194.7 553.6,1197.9" fill="none" stroke="#222" stroke-width="1.83"/>
<circle cx="547.8" cy="1183.6" r="1.6" fill="none" stroke="#222" stroke-width="1"/>
<path d="M505.4,1156.2 C507.0,1158.9 511.6,1167.6 514.9,1172.4 C518.1,1177.2 523.2,1182.8 524.9,1184.9" fill="none" stroke="#222" stroke-width="1.59"/>
<path d="M502.4,1169.9 C504.1,1172.4 509.5,1181.1 512.4,1184.9 C515.3,1188.6 518.6,1191.1 519.9,1192.4" fill="none" stroke="#222" stroke-width="1.59"/>
<path d="M513.6,1148.7 C515.5,1151.8 521.1,1162.2 524.9,1167.4 C528.6,1172.6 533.2,1177.0 536.1,1179.9 C539.0,1182.8 541.3,1184.1 542.3,1184.9" fill="none" stroke="#222" stroke-width="1.59"/>
<path d="M553.6,1197.4 C556.3,1198.4 564.4,1202.2 569.8,1203.6 C575.2,1205.1 583.3,1205.7 586.0,1206.1" fill="none" stroke="#222" stroke-width="1.59"/>
<line x1="519.4" y1="1194.4" x2="536.1" y2="1201.9" stroke="#222" stroke-width="7.8"/>
<line x1="519.4" y1="1194.4" x2="536.1" y2="1201.9" stroke="#fff" stroke-width="4.6"/>
<line x1="510.4" y1="1201.1" x2="534.3" y2="1213.6" stroke="#222" stroke-width="7.8"/>
<line x1="510.4" y1="1201.1" x2="534.3" y2="1213.6" stroke="#fff" stroke-width="4.6"/>
<line x1="519.4" y1="1221.8" x2="534.3" y2="1227.8" stroke="#222" stroke-width="7.8"/>
<line x1="519.4" y1="1221.8" x2="534.3" y2="1227.8" stroke="#fff" stroke-width="4.6"/>
<line x1="519.4" y1="1233.6" x2="534.3" y2="1239.8" stroke="#222" stroke-width="7.8"/>
<line x1="519.4" y1="1233.6" x2="534.3" y2="1239.8" stroke="#fff" stroke-width="4.6"/>
<line x1="519.9" y1="1246.1" x2="534.3" y2="1251.8" stroke="#222" stroke-width="7.8"/>
<line x1="519.9" y1="1246.1" x2="534.3" y2="1251.8" stroke="#fff" stroke-width="4.6"/>
<line x1="519.9" y1="1257.8" x2="534.3" y2="1263.5" stroke="#222" stroke-width="7.8"/>
<line x1="519.9" y1="1257.8" x2="534.3" y2="1263.5" stroke="#fff" stroke-width="4.6"/>
<line x1="519.9" y1="1269.3" x2="533.3" y2="1274.8" stroke="#222" stroke-width="7.8"/>
<line x1="519.9" y1="1269.3" x2="533.3" y2="1274.8" stroke="#fff" stroke-width="4.6"/>
<line x1="549.3" y1="1211.9" x2="565.5" y2="1217.9" stroke="#222" stroke-width="7.8"/>
<line x1="549.3" y1="1211.9" x2="565.5" y2="1217.9" stroke="#fff" stroke-width="4.6"/>
<line x1="545.6" y1="1223.6" x2="563.0" y2="1231.1" stroke="#222" stroke-width="7.8"/>
<line x1="545.6" y1="1223.6" x2="563.0" y2="1231.1" stroke="#fff" stroke-width="4.6"/>
<line x1="545.6" y1="1236.1" x2="563.0" y2="1243.1" stroke="#222" stroke-width="7.8"/>
<line x1="545.6" y1="1236.1" x2="563.0" y2="1243.1" stroke="#fff" stroke-width="4.6"/>
<line x1="545.6" y1="1248.1" x2="563.0" y2="1255.3" stroke="#222" stroke-width="7.8"/>
<line x1="545.6" y1="1248.1" x2="563.0" y2="1255.3" stroke="#fff" stroke-width="4.6"/>
<line x1="545.6" y1="1259.8" x2="562.5" y2="1266.8" stroke="#222" stroke-width="7.8"/>
<line x1="545.6" y1="1259.8" x2="562.5" y2="1266.8" stroke="#fff" stroke-width="4.6"/>
<line x1="544.3" y1="1271.8" x2="561.8" y2="1278.8" stroke="#222" stroke-width="7.8"/>
<line x1="544.3" y1="1271.8" x2="561.8" y2="1278.8" stroke="#fff" stroke-width="4.6"/>
<line x1="544.3" y1="1283.5" x2="561.8" y2="1290.8" stroke="#222" stroke-width="7.8"/>
<line x1="544.3" y1="1283.5" x2="561.8" y2="1290.8" stroke="#fff" stroke-width="4.6"/>
<line x1="519.3" y1="1256.2" x2="534.3" y2="1262.5" stroke="#222" stroke-width="7.8"/>
<line x1="519.3" y1="1256.2" x2="534.3" y2="1262.5" stroke="#fff" stroke-width="4.6"/>
<line x1="519.3" y1="1267.0" x2="533.0" y2="1273.0" stroke="#222" stroke-width="7.8"/>
<line x1="519.3" y1="1267.0" x2="533.0" y2="1273.0" stroke="#fff" stroke-width="4.6"/>
<line x1="545.5" y1="1257.5" x2="563.0" y2="1264.5" stroke="#222" stroke-width="7.8"/>
<line x1="545.5" y1="1257.5" x2="563.0" y2="1264.5" stroke="#fff" stroke-width="4.6"/>
<line x1="544.3" y1="1270.0" x2="561.7" y2="1277.0" stroke="#222" stroke-width="7.8"/>
<line x1="544.3" y1="1270.0" x2="561.7" y2="1277.0" stroke="#fff" stroke-width="4.6"/>
<line x1="544.3" y1="1282.4" x2="561.7" y2="1289.4" stroke="#222" stroke-width="7.8"/>
<line x1="544.3" y1="1282.4" x2="561.7" y2="1289.4" stroke="#fff" stroke-width="4.6"/>
<path d="M508.6,1218.9 L513.6,1215.4 L514.1,1219.4" fill="none" stroke="#222" stroke-width="1.46"/>
<path d="M508.6,1225.6 L513.6,1222.1 L514.1,1226.1" fill="none" stroke="#222" stroke-width="1.46"/>
<path d="M508.6,1232.3 L513.6,1228.8 L514.1,1232.8" fill="none" stroke="#222" stroke-width="1.46"/>
<path d="M508.6,1239.1 L513.6,1235.6 L514.1,1239.6" fill="none" stroke="#222" stroke-width="1.46"/>
<path d="M508.6,1245.8 L513.6,1242.3 L514.1,1246.3" fill="none" stroke="#222" stroke-width="1.46"/>
<path d="M508.6,1252.6 L513.6,1249.1 L514.1,1253.1" fill="none" stroke="#222" stroke-width="1.46"/>
<path d="M508.6,1259.3 L513.6,1255.8 L514.1,1259.8" fill="none" stroke="#222" stroke-width="1.46"/>
<path d="M508.6,1266.0 L513.6,1262.5 L514.1,1266.5" fill="none" stroke="#222" stroke-width="1.46"/>
<path d="M514.1,1211.1 L514.1,1264.8" fill="none" stroke="#222" stroke-width="1.46"/>
<line x1="460.4" y1="1308.9" x2="516.1" y2="1283.9" stroke="#222" stroke-width="5.6"/>
<line x1="460.4" y1="1308.9" x2="516.1" y2="1283.9" stroke="#fff" stroke-width="2.8"/>
<line x1="449.2" y1="1337.6" x2="544.8" y2="1299.4" stroke="#222" stroke-width="5.6"/>
<line x1="449.2" y1="1337.6" x2="544.8" y2="1299.4" stroke="#fff" stroke-width="2.8"/>
<path d="M509.8,1270.0 L514.8,1281.2" fill="none" stroke="#222" stroke-width="1.59"/>
<path d="M522.3,1286.2 L546.0,1297.4 L544.8,1302.4" fill="none" stroke="#222" stroke-width="1.59"/>
<path d="M498.6,1240.0 L499.8,1255.0 L506.1,1262.5 L494.8,1268.7 L479.9,1277.5" fill="none" stroke="#222" stroke-width="2.56"/>
<circle cx="554.7" cy="1312.4" r="1.8" fill="none" stroke="#222" stroke-width="1.1"/>
<circle cx="507.3" cy="1334.4" r="1.8" fill="none" stroke="#222" stroke-width="1.1"/>
<circle cx="448.7" cy="1359.9" r="1.8" fill="none" stroke="#222" stroke-width="1.1"/>
<rect x="473.5" y="428.0" width="8.4" height="11.4" rx="1.4" fill="#222"/>
<rect x="475.2" y="429.6" width="1.8" height="8.7" fill="#cfcfcf"/>
<rect x="475.2" y="439.0" width="5.0" height="8.0" rx="1.6" fill="#5a5a5a" stroke="#222" stroke-width="1.2"/>
<line x1="475.7" y1="441.7" x2="479.7" y2="441.7" stroke="#ddd" stroke-width="0.9"/>
<line x1="475.7" y1="444.3" x2="479.7" y2="444.3" stroke="#ddd" stroke-width="0.9"/>
<rect x="462.2" y="435.0" width="8.4" height="12.9" rx="1.4" fill="#222"/>
<rect x="463.9" y="436.6" width="1.8" height="9.9" fill="#cfcfcf"/>
<rect x="463.9" y="447.5" width="5.0" height="9.0" rx="1.6" fill="#5a5a5a" stroke="#222" stroke-width="1.2"/>
<line x1="464.4" y1="450.5" x2="468.4" y2="450.5" stroke="#ddd" stroke-width="0.9"/>
<line x1="464.4" y1="453.5" x2="468.4" y2="453.5" stroke="#ddd" stroke-width="0.9"/>
<path d="M475.8,414.0 L476.2,428.0" fill="none" stroke="#222" stroke-width="1.59"/>
<path d="M479.6,413.5 L479.8,428.0" fill="none" stroke="#222" stroke-width="1.59"/>
<path d="M464.6,420.0 L465.0,435.0" fill="none" stroke="#222" stroke-width="1.59"/>
<path d="M468.2,420.0 L468.4,435.0" fill="none" stroke="#222" stroke-width="1.59"/>
<rect x="583.0" y="445.0" width="8.4" height="10.8" rx="1.4" fill="#222"/>
<rect x="584.7" y="446.6" width="1.8" height="8.3" fill="#cfcfcf"/>
<rect x="584.7" y="455.4" width="5.0" height="7.6" rx="1.6" fill="#5a5a5a" stroke="#222" stroke-width="1.2"/>
<line x1="585.2" y1="458.0" x2="589.2" y2="458.0" stroke="#ddd" stroke-width="0.9"/>
<line x1="585.2" y1="460.5" x2="589.2" y2="460.5" stroke="#ddd" stroke-width="0.9"/>
<rect x="610.1" y="457.5" width="8.4" height="11.7" rx="1.4" fill="#222"/>
<rect x="611.8" y="459.1" width="1.8" height="9.0" fill="#cfcfcf"/>
<rect x="611.8" y="468.8" width="5.0" height="8.2" rx="1.6" fill="#5a5a5a" stroke="#222" stroke-width="1.2"/>
<line x1="612.3" y1="471.5" x2="616.3" y2="471.5" stroke="#ddd" stroke-width="0.9"/>
<line x1="612.3" y1="474.3" x2="616.3" y2="474.3" stroke="#ddd" stroke-width="0.9"/>
<path d="M585.8,445.0 C585.8,443.2 585.1,437.6 586.0,434.0 C586.9,430.4 590.2,425.2 591.0,423.5" fill="none" stroke="#222" stroke-width="1.59"/>
<path d="M588.8,445.0 C588.9,443.3 588.6,438.3 589.4,435.0 C590.2,431.7 592.8,426.7 593.5,425.0" fill="none" stroke="#222" stroke-width="1.59"/>
<path d="M612.8,457.5 C612.7,455.8 612.4,450.6 612.0,447.0 C611.6,443.4 610.8,437.8 610.5,436.0" fill="none" stroke="#222" stroke-width="1.59"/>
<path d="M615.8,457.5 C615.7,455.8 615.4,450.4 615.0,447.0 C614.6,443.6 613.5,438.7 613.2,437.0" fill="none" stroke="#222" stroke-width="1.59"/>
<path d="M523.5,482.2 C524.6,483.7 527.7,489.0 529.8,491.0 C531.8,493.0 533.5,494.2 536.0,494.2 C538.5,494.2 542.0,492.8 544.7,491.0 C547.4,489.2 551.0,484.7 552.2,483.5" fill="none" stroke="#222" stroke-width="4.88"/>
<path d="M523.5,482.2 C524.6,483.7 527.7,489.0 529.8,491.0 C531.8,493.0 533.5,494.2 536.0,494.2 C538.5,494.2 542.0,492.8 544.7,491.0 C547.4,489.2 551.0,484.7 552.2,483.5" fill="none" stroke="#fff" stroke-width="1.83"/>
<ellipse cx="558.7" cy="474.2" rx="9.2" ry="18.5" fill="none" stroke="#222" stroke-width="4.0" transform="rotate(8 558.7 474.2)"/>
<ellipse cx="558.7" cy="474.2" rx="9.2" ry="18.5" fill="none" stroke="#fff" stroke-width="1.5" transform="rotate(8 558.7 474.2)"/>
<ellipse cx="560.2" cy="475.2" rx="4.6" ry="13.5" fill="none" stroke="#222" stroke-width="1.3" transform="rotate(8 558.7 474.2)"/>
<path d="M563.4,457.3 C564.5,456.9 567.6,455.0 569.7,455.3 C571.8,455.5 574.3,456.7 575.9,458.5 C577.6,460.3 579.0,464.7 579.7,466.0" fill="none" stroke="#222" stroke-width="4.88"/>
<path d="M563.4,457.3 C564.5,456.9 567.6,455.0 569.7,455.3 C571.8,455.5 574.3,456.7 575.9,458.5 C577.6,460.3 579.0,464.7 579.7,466.0" fill="none" stroke="#fff" stroke-width="1.83"/>
<line x1="516.0" y1="472.2" x2="524.3" y2="483.5" stroke="#222" stroke-width="5.6" stroke-linecap="butt"/>
<line x1="518.0" y1="474.7" x2="522.3" y2="480.5" stroke="#ddd" stroke-width="1.2" stroke-linecap="butt"/>
<rect x="576.4" y="467.7" width="6.6" height="10.8" rx="1.4" fill="#222"/>
<rect x="578.1" y="469.3" width="1.5" height="8.3" fill="#cfcfcf"/>
<rect x="577.7" y="478.2" width="4.0" height="7.6" rx="1.6" fill="#5a5a5a" stroke="#222" stroke-width="1.2"/>
<line x1="578.1" y1="480.7" x2="581.3" y2="480.7" stroke="#ddd" stroke-width="0.9"/>
<line x1="578.1" y1="483.2" x2="581.3" y2="483.2" stroke="#ddd" stroke-width="0.9"/>
<rect x="441.6" y="598.3" width="4.2" height="10.2" rx="1" fill="#222"/>
<ellipse cx="443.7" cy="599.9" rx="4.4" ry="2.2" fill="#222"/>
<rect x="440.5" y="593.3" width="6.4" height="6.5" rx="2.2" fill="#222"/>
<ellipse cx="443.4" cy="595.5" rx="1.6" ry="1.1" fill="#bbb"/>
<rect x="459.9" y="599.6" width="4.2" height="10.0" rx="1" fill="#222"/>
<ellipse cx="462.0" cy="601.2" rx="4.4" ry="2.2" fill="#222"/>
<rect x="458.8" y="594.6" width="6.4" height="6.5" rx="2.2" fill="#222"/>
<ellipse cx="461.7" cy="596.8" rx="1.6" ry="1.1" fill="#bbb"/>
<rect x="471.7" y="584.6" width="4.2" height="11.4" rx="1" fill="#222"/>
<ellipse cx="473.8" cy="586.2" rx="4.4" ry="2.2" fill="#222"/>
<rect x="470.6" y="579.6" width="6.4" height="6.5" rx="2.2" fill="#222"/>
<ellipse cx="473.5" cy="581.8" rx="1.6" ry="1.1" fill="#bbb"/>
<rect x="579.5" y="780.0" width="4.2" height="13.5" rx="1" fill="#222"/>
<ellipse cx="581.6" cy="781.6" rx="4.9" ry="2.2" fill="#222"/>
<rect x="577.9" y="775.0" width="7.4" height="6.5" rx="2.2" fill="#222"/>
<ellipse cx="581.3" cy="777.2" rx="2.1" ry="1.1" fill="#bbb"/>
<ellipse cx="452.4" cy="642.0" rx="4.8" ry="4.6" fill="#222"/>
<ellipse cx="452.4" cy="641.7" rx="2.0" ry="1.7" fill="#ccc"/>
<ellipse cx="467.7" cy="635.8" rx="4.6" ry="4.4" fill="#222"/>
<ellipse cx="467.7" cy="635.5" rx="1.9" ry="1.7" fill="#ccc"/>
<ellipse cx="482.3" cy="628.9" rx="6.4" ry="6.8" fill="#fff" stroke="#222" stroke-width="2" transform="rotate(-20 482.3 628.9)"/>
<ellipse cx="482.3" cy="628.9" rx="3.2" ry="3.4" fill="#fff" stroke="#222" stroke-width="1.5" transform="rotate(-20 482.3 628.9)"/>
<circle cx="482.3" cy="628.9" r="1" fill="#222"/>
<ellipse cx="649.0" cy="573.3" rx="5.8" ry="6.4" fill="#fff" stroke="#222" stroke-width="2" transform="rotate(-20 649.0 573.3)"/>
<ellipse cx="649.0" cy="573.3" rx="2.9" ry="3.2" fill="#fff" stroke="#222" stroke-width="1.5" transform="rotate(-20 649.0 573.3)"/>
<circle cx="649.0" cy="573.3" r="1" fill="#222"/>
<ellipse cx="662.6" cy="567.0" rx="4.6" ry="4.4" fill="#222"/>
<ellipse cx="662.6" cy="566.7" rx="1.9" ry="1.7" fill="#ccc"/>
<ellipse cx="676.4" cy="562.3" rx="4.8" ry="4.6" fill="#222"/>
<ellipse cx="676.4" cy="562.0" rx="2.0" ry="1.7" fill="#ccc"/>
<path d="M488.6,627.0 L516.0,614.5" fill="none" stroke="#222" stroke-width="1.71" stroke-dasharray="6 4"/>
<path d="M619.6,584.6 L644.6,575.0" fill="none" stroke="#222" stroke-width="1.71" stroke-dasharray="6 4"/>
<path d="M581.6,795.0 L581.6,804.4 L609.7,795.0" fill="none" stroke="#222" stroke-width="1.71" stroke-dasharray="6 4"/>
</g>
</svg></body></html>
